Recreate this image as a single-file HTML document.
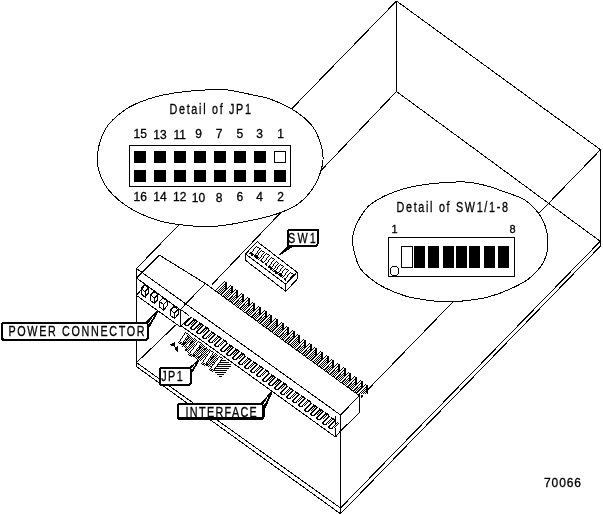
<!DOCTYPE html>
<html><head><meta charset="utf-8"><title>70066</title>
<style>
html,body{margin:0;padding:0;background:#fff;}
body{width:603px;height:515px;overflow:hidden;}
svg{display:block;will-change:transform;}
text{font-family:"Liberation Sans",sans-serif;fill:#000;stroke:#000;stroke-width:0.3px;}
</style></head><body>
<svg width="603" height="515" viewBox="0 0 603 515" shape-rendering="crispEdges">
<defs>
<pattern id="dith" width="2" height="2" patternUnits="userSpaceOnUse"><rect width="2" height="2" fill="#fff"/><rect width="1" height="1" fill="#000"/><rect x="1" y="1" width="1" height="1" fill="#000"/></pattern>
<pattern id="hatch" width="2" height="2" patternUnits="userSpaceOnUse"><rect width="2" height="2" fill="#fff"/><rect width="2" height="1" fill="#000"/></pattern>
</defs>
<rect width="603" height="515" fill="#fff"/>
<line x1="396.5" y1="1.0" x2="136.5" y2="268.5" stroke="#000" stroke-width="1" />
<line x1="396.5" y1="1.0" x2="600.5" y2="149.7" stroke="#000" stroke-width="1" />
<line x1="396.5" y1="1.0" x2="396.5" y2="91.5" stroke="#000" stroke-width="1" />
<line x1="396.5" y1="91.5" x2="211.9" y2="284.7" stroke="#000" stroke-width="1" />
<line x1="176.8" y1="324.0" x2="136.5" y2="362.6" stroke="#000" stroke-width="1" />
<line x1="396.5" y1="91.5" x2="600.5" y2="241.5" stroke="#000" stroke-width="1" />
<line x1="600.5" y1="149.7" x2="600.5" y2="246.0" stroke="#000" stroke-width="1" />
<line x1="600.5" y1="149.7" x2="367.5" y2="390.0" stroke="#000" stroke-width="1" />
<line x1="136.5" y1="268.5" x2="340.5" y2="415.0" stroke="#000" stroke-width="1" />
<line x1="136.5" y1="268.5" x2="136.5" y2="366.6" stroke="#000" stroke-width="1" />
<line x1="136.5" y1="362.6" x2="340.5" y2="508.0" stroke="#000" stroke-width="1" />
<line x1="136.5" y1="366.6" x2="340.5" y2="513.8" stroke="#000" stroke-width="1" />
<line x1="340.5" y1="415.0" x2="340.5" y2="513.8" stroke="#000" stroke-width="1" />
<line x1="340.5" y1="508.0" x2="600.5" y2="241.0" stroke="#000" stroke-width="1" />
<line x1="340.5" y1="513.8" x2="600.5" y2="246.0" stroke="#000" stroke-width="1" />
<polyline points="136.5,278.0 159.5,255.2 205.3,283.5" fill="none" stroke="#000" stroke-width="1" />
<line x1="136.5" y1="278.0" x2="180.5" y2="310.0" stroke="#000" stroke-width="1" />
<line x1="136.5" y1="295.4" x2="145.1" y2="285.0" stroke="#000" stroke-width="1" />
<line x1="136.5" y1="295.4" x2="180.5" y2="327.0" stroke="#000" stroke-width="1" />
<polygon points="141.0,288.5 145.0,291.5 145.0,297.0 141.0,294.0" fill="#fff" stroke="#000" stroke-width="1" />
<polyline points="141.0,288.5 144.5,285.0 148.5,288.0 145.0,291.5" fill="none" stroke="#000" stroke-width="1" />
<polyline points="148.5,288.0 148.5,293.0 145.0,297.0" fill="none" stroke="#000" stroke-width="1" />
<polygon points="150.4,295.0 154.4,298.0 154.4,303.5 150.4,300.5" fill="#fff" stroke="#000" stroke-width="1" />
<polyline points="150.4,295.0 153.9,291.5 157.9,294.5 154.4,298.0" fill="none" stroke="#000" stroke-width="1" />
<polyline points="157.9,294.5 157.9,299.5 154.4,303.5" fill="none" stroke="#000" stroke-width="1" />
<polygon points="159.6,301.5 163.6,304.5 163.6,310.0 159.6,307.0" fill="#fff" stroke="#000" stroke-width="1" />
<polyline points="159.6,301.5 163.1,298.0 167.1,301.0 163.6,304.5" fill="none" stroke="#000" stroke-width="1" />
<polyline points="167.1,301.0 167.1,306.0 163.6,310.0" fill="none" stroke="#000" stroke-width="1" />
<polygon points="170.5,310.0 174.5,313.0 174.5,318.5 170.5,315.5" fill="#fff" stroke="#000" stroke-width="1" />
<polyline points="170.5,310.0 174.0,306.5 178.0,309.5 174.5,313.0" fill="none" stroke="#000" stroke-width="1" />
<polyline points="178.0,309.5 178.0,314.5 174.5,318.5" fill="none" stroke="#000" stroke-width="1" />
<line x1="205.3" y1="283.5" x2="180.5" y2="309.4" stroke="#000" stroke-width="1" />
<line x1="205.3" y1="283.5" x2="359.4" y2="395.7" stroke="#000" stroke-width="1" />
<line x1="359.4" y1="395.7" x2="340.5" y2="415.0" stroke="#000" stroke-width="1" />
<line x1="359.5" y1="395.7" x2="359.5" y2="412.7" stroke="#000" stroke-width="1" />
<line x1="340.5" y1="431.0" x2="359.4" y2="412.7" stroke="#000" stroke-width="1" />
<line x1="180.5" y1="325.3" x2="335.5" y2="437.0" stroke="#000" stroke-width="1" />
<line x1="335.5" y1="416.4" x2="335.5" y2="437.0" stroke="#000" stroke-width="1" />
<line x1="335.5" y1="437.0" x2="340.5" y2="431.0" stroke="#000" stroke-width="1" />
<line x1="180.5" y1="309.4" x2="180.5" y2="325.3" stroke="#000" stroke-width="1" />
<line x1="180.5" y1="309.4" x2="189.0" y2="315.5" stroke="#000" stroke-width="1" />
<path fill="#fff" d="M225 281h1v1h-1zM224 282h1v1h-1zM223 283h2v1h-2zM222 284h2v1h-2zM221 285h2v1h-2zM224 285h1v1h-1zM231 285h1v1h-1zM220 286h2v1h-2zM223 286h1v1h-1zM230 286h1v1h-1zM219 287h2v1h-2zM222 287h1v1h-1zM224 287h1v1h-1zM229 287h2v1h-2zM218 288h2v1h-2zM221 288h1v1h-1zM223 288h1v1h-1zM228 288h2v1h-2zM217 289h2v1h-2zM220 289h1v1h-1zM222 289h1v1h-1zM224 289h1v1h-1zM227 289h2v1h-2zM230 289h1v1h-1zM236 289h1v1h-1zM216 290h2v1h-2zM219 290h1v1h-1zM221 290h1v1h-1zM223 290h1v1h-1zM226 290h2v1h-2zM229 290h1v1h-1zM235 290h1v1h-1zM218 291h1v1h-1zM220 291h1v1h-1zM222 291h1v1h-1zM225 291h2v1h-2zM228 291h1v1h-1zM230 291h1v1h-1zM234 291h2v1h-2zM219 292h1v1h-1zM221 292h1v1h-1zM224 292h2v1h-2zM227 292h1v1h-1zM229 292h1v1h-1zM233 292h2v1h-2zM220 293h1v1h-1zM223 293h2v1h-2zM226 293h1v1h-1zM228 293h1v1h-1zM230 293h1v1h-1zM232 293h2v1h-2zM235 293h1v1h-1zM242 293h1v1h-1zM222 294h2v1h-2zM225 294h1v1h-1zM227 294h1v1h-1zM229 294h1v1h-1zM231 294h2v1h-2zM234 294h2v1h-2zM241 294h1v1h-1zM222 295h1v1h-1zM224 295h1v1h-1zM226 295h1v1h-1zM228 295h1v1h-1zM230 295h2v1h-2zM233 295h2v1h-2zM240 295h2v1h-2zM225 296h1v1h-1zM227 296h1v1h-1zM229 296h2v1h-2zM233 296h1v1h-1zM235 296h1v1h-1zM239 296h2v1h-2zM226 297h1v1h-1zM228 297h2v1h-2zM232 297h1v1h-1zM234 297h1v1h-1zM238 297h2v1h-2zM241 297h1v1h-1zM248 297h1v1h-1zM227 298h2v1h-2zM231 298h1v1h-1zM233 298h1v1h-1zM235 298h1v1h-1zM237 298h2v1h-2zM240 298h2v1h-2zM247 298h1v1h-1zM230 299h1v1h-1zM232 299h1v1h-1zM234 299h1v1h-1zM236 299h2v1h-2zM239 299h2v1h-2zM246 299h2v1h-2zM229 300h1v1h-1zM231 300h1v1h-1zM233 300h1v1h-1zM235 300h2v1h-2zM239 300h1v1h-1zM241 300h1v1h-1zM245 300h2v1h-2zM232 301h1v1h-1zM234 301h2v1h-2zM238 301h1v1h-1zM240 301h1v1h-1zM244 301h2v1h-2zM247 301h1v1h-1zM233 302h2v1h-2zM237 302h1v1h-1zM239 302h1v1h-1zM241 302h1v1h-1zM243 302h2v1h-2zM246 302h2v1h-2zM253 302h1v1h-1zM233 303h1v1h-1zM236 303h1v1h-1zM238 303h1v1h-1zM240 303h1v1h-1zM242 303h2v1h-2zM245 303h2v1h-2zM252 303h1v1h-1zM235 304h1v1h-1zM237 304h1v1h-1zM239 304h1v1h-1zM241 304h2v1h-2zM245 304h1v1h-1zM247 304h1v1h-1zM251 304h2v1h-2zM236 305h1v1h-1zM238 305h1v1h-1zM240 305h2v1h-2zM244 305h1v1h-1zM246 305h1v1h-1zM250 305h2v1h-2zM237 306h1v1h-1zM239 306h2v1h-2zM243 306h1v1h-1zM245 306h1v1h-1zM247 306h1v1h-1zM249 306h2v1h-2zM252 306h1v1h-1zM259 306h1v1h-1zM239 307h1v1h-1zM242 307h1v1h-1zM244 307h1v1h-1zM246 307h1v1h-1zM248 307h2v1h-2zM251 307h2v1h-2zM258 307h1v1h-1zM241 308h1v1h-1zM243 308h1v1h-1zM245 308h1v1h-1zM247 308h2v1h-2zM250 308h2v1h-2zM257 308h2v1h-2zM242 309h1v1h-1zM244 309h1v1h-1zM246 309h2v1h-2zM250 309h1v1h-1zM252 309h1v1h-1zM256 309h2v1h-2zM243 310h1v1h-1zM245 310h2v1h-2zM249 310h1v1h-1zM251 310h1v1h-1zM255 310h2v1h-2zM258 310h1v1h-1zM265 310h1v1h-1zM244 311h2v1h-2zM248 311h1v1h-1zM250 311h1v1h-1zM252 311h1v1h-1zM254 311h2v1h-2zM257 311h2v1h-2zM264 311h1v1h-1zM247 312h1v1h-1zM249 312h1v1h-1zM251 312h1v1h-1zM253 312h2v1h-2zM256 312h2v1h-2zM263 312h2v1h-2zM248 313h1v1h-1zM250 313h1v1h-1zM252 313h2v1h-2zM256 313h1v1h-1zM258 313h1v1h-1zM262 313h2v1h-2zM249 314h1v1h-1zM251 314h2v1h-2zM255 314h1v1h-1zM257 314h1v1h-1zM261 314h2v1h-2zM264 314h1v1h-1zM270 314h1v1h-1zM250 315h2v1h-2zM254 315h1v1h-1zM256 315h1v1h-1zM258 315h1v1h-1zM260 315h2v1h-2zM263 315h2v1h-2zM269 315h1v1h-1zM253 316h1v1h-1zM255 316h1v1h-1zM257 316h1v1h-1zM259 316h2v1h-2zM262 316h2v1h-2zM268 316h2v1h-2zM254 317h1v1h-1zM256 317h1v1h-1zM258 317h2v1h-2zM262 317h1v1h-1zM264 317h1v1h-1zM267 317h2v1h-2zM255 318h1v1h-1zM257 318h2v1h-2zM261 318h1v1h-1zM263 318h1v1h-1zM266 318h2v1h-2zM269 318h1v1h-1zM276 318h1v1h-1zM256 319h2v1h-2zM260 319h1v1h-1zM262 319h1v1h-1zM265 319h2v1h-2zM268 319h1v1h-1zM275 319h1v1h-1zM259 320h1v1h-1zM261 320h1v1h-1zM264 320h2v1h-2zM267 320h1v1h-1zM269 320h1v1h-1zM274 320h2v1h-2zM193 321h1v1h-1zM258 321h1v1h-1zM260 321h1v1h-1zM263 321h2v1h-2zM266 321h1v1h-1zM268 321h1v1h-1zM273 321h2v1h-2zM192 322h1v1h-1zM259 322h1v1h-1zM262 322h2v1h-2zM265 322h1v1h-1zM267 322h1v1h-1zM269 322h1v1h-1zM272 322h2v1h-2zM275 322h1v1h-1zM282 322h1v1h-1zM191 323h1v1h-1zM261 323h2v1h-2zM264 323h1v1h-1zM266 323h1v1h-1zM268 323h1v1h-1zM271 323h2v1h-2zM274 323h1v1h-1zM281 323h1v1h-1zM190 324h1v1h-1zM263 324h1v1h-1zM265 324h1v1h-1zM267 324h1v1h-1zM270 324h2v1h-2zM273 324h1v1h-1zM275 324h1v1h-1zM280 324h2v1h-2zM199 325h1v1h-1zM264 325h1v1h-1zM266 325h1v1h-1zM269 325h2v1h-2zM272 325h1v1h-1zM274 325h1v1h-1zM279 325h2v1h-2zM198 326h1v1h-1zM265 326h1v1h-1zM268 326h2v1h-2zM271 326h1v1h-1zM273 326h1v1h-1zM275 326h1v1h-1zM278 326h2v1h-2zM281 326h1v1h-1zM287 326h1v1h-1zM197 327h1v1h-1zM267 327h2v1h-2zM270 327h1v1h-1zM272 327h1v1h-1zM274 327h1v1h-1zM277 327h2v1h-2zM280 327h1v1h-1zM286 327h1v1h-1zM196 328h1v1h-1zM269 328h1v1h-1zM271 328h1v1h-1zM273 328h1v1h-1zM276 328h2v1h-2zM279 328h1v1h-1zM281 328h1v1h-1zM285 328h2v1h-2zM205 329h1v1h-1zM270 329h1v1h-1zM272 329h1v1h-1zM275 329h2v1h-2zM278 329h1v1h-1zM280 329h1v1h-1zM284 329h2v1h-2zM204 330h1v1h-1zM271 330h1v1h-1zM274 330h2v1h-2zM277 330h1v1h-1zM279 330h1v1h-1zM281 330h1v1h-1zM283 330h2v1h-2zM286 330h1v1h-1zM293 330h1v1h-1zM203 331h1v1h-1zM273 331h2v1h-2zM276 331h1v1h-1zM278 331h1v1h-1zM280 331h1v1h-1zM282 331h2v1h-2zM285 331h2v1h-2zM292 331h1v1h-1zM202 332h1v1h-1zM273 332h1v1h-1zM275 332h1v1h-1zM277 332h1v1h-1zM279 332h1v1h-1zM281 332h2v1h-2zM284 332h2v1h-2zM291 332h2v1h-2zM185 333h1v1h-1zM211 333h1v1h-1zM274 333h1v1h-1zM276 333h1v1h-1zM278 333h1v1h-1zM280 333h2v1h-2zM284 333h1v1h-1zM286 333h1v1h-1zM290 333h2v1h-2zM183 334h1v1h-1zM185 334h3v1h-3zM210 334h1v1h-1zM212 334h1v1h-1zM277 334h1v1h-1zM279 334h2v1h-2zM283 334h1v1h-1zM285 334h1v1h-1zM289 334h2v1h-2zM292 334h1v1h-1zM298 334h1v1h-1zM184 335h3v1h-3zM209 335h1v1h-1zM211 335h1v1h-1zM278 335h2v1h-2zM282 335h1v1h-1zM284 335h1v1h-1zM286 335h1v1h-1zM288 335h2v1h-2zM291 335h2v1h-2zM297 335h1v1h-1zM183 336h4v1h-4zM189 336h1v1h-1zM208 336h1v1h-1zM210 336h1v1h-1zM281 336h1v1h-1zM283 336h1v1h-1zM285 336h1v1h-1zM287 336h2v1h-2zM290 336h2v1h-2zM296 336h2v1h-2zM181 337h1v1h-1zM183 337h3v1h-3zM190 337h1v1h-1zM192 337h1v1h-1zM207 337h1v1h-1zM209 337h1v1h-1zM217 337h1v1h-1zM280 337h1v1h-1zM282 337h1v1h-1zM284 337h1v1h-1zM286 337h2v1h-2zM290 337h1v1h-1zM292 337h1v1h-1zM295 337h2v1h-2zM180 338h1v1h-1zM182 338h3v1h-3zM189 338h1v1h-1zM191 338h1v1h-1zM193 338h1v1h-1zM216 338h1v1h-1zM218 338h1v1h-1zM281 338h1v1h-1zM283 338h1v1h-1zM285 338h2v1h-2zM289 338h1v1h-1zM291 338h1v1h-1zM294 338h2v1h-2zM297 338h1v1h-1zM181 339h3v1h-3zM188 339h1v1h-1zM190 339h1v1h-1zM194 339h1v1h-1zM215 339h1v1h-1zM217 339h1v1h-1zM284 339h2v1h-2zM288 339h1v1h-1zM290 339h1v1h-1zM293 339h2v1h-2zM296 339h1v1h-1zM304 339h1v1h-1zM179 340h1v1h-1zM181 340h3v1h-3zM185 340h1v1h-1zM187 340h1v1h-1zM189 340h1v1h-1zM193 340h1v1h-1zM195 340h1v1h-1zM214 340h1v1h-1zM216 340h1v1h-1zM284 340h1v1h-1zM287 340h1v1h-1zM289 340h1v1h-1zM292 340h2v1h-2zM295 340h1v1h-1zM297 340h1v1h-1zM303 340h1v1h-1zM180 341h3v1h-3zM186 341h1v1h-1zM188 341h1v1h-1zM194 341h1v1h-1zM196 341h2v1h-2zM213 341h1v1h-1zM215 341h1v1h-1zM223 341h1v1h-1zM286 341h1v1h-1zM288 341h1v1h-1zM291 341h2v1h-2zM294 341h1v1h-1zM296 341h1v1h-1zM302 341h2v1h-2zM187 342h1v1h-1zM189 342h1v1h-1zM193 342h1v1h-1zM195 342h1v1h-1zM198 342h1v1h-1zM222 342h1v1h-1zM224 342h1v1h-1zM287 342h1v1h-1zM290 342h2v1h-2zM293 342h1v1h-1zM295 342h1v1h-1zM297 342h1v1h-1zM301 342h2v1h-2zM186 343h1v1h-1zM188 343h1v1h-1zM192 343h1v1h-1zM194 343h1v1h-1zM197 343h4v1h-4zM221 343h1v1h-1zM223 343h1v1h-1zM289 343h2v1h-2zM292 343h1v1h-1zM294 343h1v1h-1zM296 343h1v1h-1zM298 343h1v1h-1zM300 343h2v1h-2zM303 343h1v1h-1zM310 343h1v1h-1zM185 344h1v1h-1zM187 344h1v1h-1zM191 344h1v1h-1zM193 344h1v1h-1zM195 344h1v1h-1zM197 344h3v1h-3zM220 344h1v1h-1zM222 344h1v1h-1zM291 344h1v1h-1zM293 344h1v1h-1zM295 344h1v1h-1zM297 344h1v1h-1zM299 344h2v1h-2zM302 344h2v1h-2zM309 344h1v1h-1zM182 345h1v1h-1zM184 345h1v1h-1zM186 345h1v1h-1zM188 345h1v1h-1zM190 345h1v1h-1zM192 345h1v1h-1zM194 345h1v1h-1zM196 345h3v1h-3zM202 345h1v1h-1zM219 345h1v1h-1zM221 345h1v1h-1zM292 345h1v1h-1zM294 345h1v1h-1zM296 345h1v1h-1zM298 345h2v1h-2zM301 345h2v1h-2zM308 345h2v1h-2zM183 346h1v1h-1zM185 346h1v1h-1zM187 346h1v1h-1zM189 346h1v1h-1zM191 346h1v1h-1zM195 346h3v1h-3zM201 346h1v1h-1zM203 346h1v1h-1zM293 346h1v1h-1zM295 346h1v1h-1zM297 346h2v1h-2zM301 346h1v1h-1zM303 346h1v1h-1zM307 346h2v1h-2zM184 347h1v1h-1zM188 347h1v1h-1zM190 347h1v1h-1zM194 347h4v1h-4zM202 347h1v1h-1zM204 347h1v1h-1zM229 347h1v1h-1zM294 347h1v1h-1zM296 347h2v1h-2zM300 347h1v1h-1zM302 347h1v1h-1zM306 347h2v1h-2zM309 347h1v1h-1zM315 347h1v1h-1zM187 348h1v1h-1zM189 348h1v1h-1zM191 348h2v1h-2zM194 348h3v1h-3zM201 348h1v1h-1zM203 348h1v1h-1zM207 348h1v1h-1zM228 348h1v1h-1zM295 348h2v1h-2zM299 348h1v1h-1zM301 348h1v1h-1zM303 348h1v1h-1zM305 348h2v1h-2zM308 348h2v1h-2zM314 348h1v1h-1zM188 349h1v1h-1zM190 349h2v1h-2zM193 349h3v1h-3zM200 349h1v1h-1zM202 349h1v1h-1zM206 349h1v1h-1zM208 349h1v1h-1zM227 349h1v1h-1zM298 349h1v1h-1zM300 349h1v1h-1zM302 349h1v1h-1zM304 349h2v1h-2zM307 349h2v1h-2zM313 349h2v1h-2zM187 350h1v1h-1zM189 350h1v1h-1zM192 350h3v1h-3zM199 350h1v1h-1zM201 350h1v1h-1zM205 350h1v1h-1zM207 350h1v1h-1zM209 350h1v1h-1zM226 350h1v1h-1zM299 350h1v1h-1zM301 350h1v1h-1zM303 350h2v1h-2zM307 350h1v1h-1zM309 350h1v1h-1zM312 350h2v1h-2zM188 351h1v1h-1zM191 351h4v1h-4zM196 351h1v1h-1zM198 351h1v1h-1zM200 351h1v1h-1zM204 351h1v1h-1zM206 351h1v1h-1zM208 351h1v1h-1zM210 351h1v1h-1zM235 351h1v1h-1zM300 351h1v1h-1zM302 351h2v1h-2zM306 351h1v1h-1zM308 351h1v1h-1zM311 351h2v1h-2zM314 351h1v1h-1zM321 351h1v1h-1zM189 352h1v1h-1zM191 352h3v1h-3zM197 352h1v1h-1zM199 352h1v1h-1zM201 352h1v1h-1zM203 352h1v1h-1zM205 352h1v1h-1zM207 352h1v1h-1zM210 352h3v1h-3zM234 352h1v1h-1zM301 352h2v1h-2zM305 352h1v1h-1zM307 352h1v1h-1zM310 352h2v1h-2zM313 352h1v1h-1zM320 352h1v1h-1zM190 353h3v1h-3zM196 353h1v1h-1zM198 353h1v1h-1zM200 353h1v1h-1zM202 353h1v1h-1zM204 353h1v1h-1zM206 353h1v1h-1zM209 353h3v1h-3zM214 353h1v1h-1zM233 353h1v1h-1zM304 353h1v1h-1zM306 353h1v1h-1zM309 353h2v1h-2zM312 353h1v1h-1zM314 353h1v1h-1zM319 353h2v1h-2zM195 354h1v1h-1zM197 354h1v1h-1zM199 354h1v1h-1zM203 354h1v1h-1zM205 354h1v1h-1zM208 354h4v1h-4zM215 354h1v1h-1zM232 354h1v1h-1zM303 354h1v1h-1zM305 354h1v1h-1zM308 354h2v1h-2zM311 354h1v1h-1zM313 354h1v1h-1zM318 354h2v1h-2zM196 355h1v1h-1zM198 355h1v1h-1zM202 355h1v1h-1zM204 355h1v1h-1zM206 355h1v1h-1zM208 355h3v1h-3zM214 355h1v1h-1zM216 355h1v1h-1zM218 355h1v1h-1zM241 355h1v1h-1zM307 355h2v1h-2zM310 355h1v1h-1zM312 355h1v1h-1zM314 355h1v1h-1zM317 355h2v1h-2zM320 355h1v1h-1zM327 355h1v1h-1zM195 356h1v1h-1zM197 356h1v1h-1zM201 356h1v1h-1zM203 356h1v1h-1zM207 356h3v1h-3zM215 356h1v1h-1zM217 356h2v1h-2zM240 356h1v1h-1zM306 356h2v1h-2zM309 356h1v1h-1zM311 356h1v1h-1zM313 356h1v1h-1zM316 356h2v1h-2zM319 356h1v1h-1zM326 356h1v1h-1zM196 357h1v1h-1zM200 357h1v1h-1zM202 357h1v1h-1zM206 357h3v1h-3zM214 357h1v1h-1zM216 357h2v1h-2zM219 357h1v1h-1zM239 357h1v1h-1zM308 357h1v1h-1zM310 357h1v1h-1zM312 357h1v1h-1zM315 357h2v1h-2zM318 357h1v1h-1zM320 357h1v1h-1zM325 357h2v1h-2zM199 358h1v1h-1zM201 358h1v1h-1zM203 358h2v1h-2zM206 358h3v1h-3zM213 358h1v1h-1zM215 358h1v1h-1zM218 358h4v1h-4zM238 358h1v1h-1zM309 358h1v1h-1zM311 358h1v1h-1zM314 358h2v1h-2zM317 358h1v1h-1zM319 358h1v1h-1zM324 358h2v1h-2zM198 359h1v1h-1zM200 359h1v1h-1zM202 359h2v1h-2zM205 359h3v1h-3zM212 359h1v1h-1zM214 359h1v1h-1zM216 359h1v1h-1zM218 359h3v1h-3zM222 359h2v1h-2zM247 359h1v1h-1zM310 359h1v1h-1zM313 359h2v1h-2zM316 359h1v1h-1zM318 359h1v1h-1zM320 359h1v1h-1zM323 359h2v1h-2zM326 359h1v1h-1zM332 359h1v1h-1zM199 360h1v1h-1zM201 360h1v1h-1zM204 360h3v1h-3zM209 360h1v1h-1zM211 360h1v1h-1zM213 360h1v1h-1zM215 360h1v1h-1zM217 360h3v1h-3zM246 360h1v1h-1zM248 360h1v1h-1zM312 360h2v1h-2zM315 360h1v1h-1zM317 360h1v1h-1zM319 360h1v1h-1zM322 360h2v1h-2zM325 360h1v1h-1zM331 360h1v1h-1zM202 361h1v1h-1zM204 361h2v1h-2zM208 361h1v1h-1zM210 361h1v1h-1zM212 361h1v1h-1zM214 361h1v1h-1zM216 361h4v1h-4zM221 361h6v1h-6zM245 361h1v1h-1zM247 361h1v1h-1zM314 361h1v1h-1zM316 361h1v1h-1zM318 361h1v1h-1zM321 361h2v1h-2zM324 361h1v1h-1zM326 361h1v1h-1zM330 361h2v1h-2zM203 362h3v1h-3zM209 362h1v1h-1zM211 362h1v1h-1zM215 362h4v1h-4zM244 362h1v1h-1zM246 362h1v1h-1zM315 362h1v1h-1zM317 362h1v1h-1zM320 362h2v1h-2zM323 362h1v1h-1zM325 362h1v1h-1zM329 362h2v1h-2zM208 363h1v1h-1zM210 363h1v1h-1zM212 363h2v1h-2zM215 363h3v1h-3zM219 363h11v1h-11zM243 363h1v1h-1zM245 363h1v1h-1zM253 363h1v1h-1zM316 363h1v1h-1zM319 363h2v1h-2zM322 363h1v1h-1zM324 363h1v1h-1zM326 363h1v1h-1zM328 363h2v1h-2zM331 363h1v1h-1zM338 363h1v1h-1zM209 364h1v1h-1zM211 364h1v1h-1zM214 364h3v1h-3zM252 364h1v1h-1zM254 364h1v1h-1zM318 364h2v1h-2zM321 364h1v1h-1zM323 364h1v1h-1zM325 364h1v1h-1zM327 364h2v1h-2zM330 364h2v1h-2zM337 364h1v1h-1zM208 365h1v1h-1zM210 365h2v1h-2zM213 365h4v1h-4zM218 365h14v1h-14zM251 365h1v1h-1zM253 365h1v1h-1zM318 365h1v1h-1zM320 365h1v1h-1zM322 365h1v1h-1zM324 365h1v1h-1zM326 365h2v1h-2zM329 365h2v1h-2zM336 365h2v1h-2zM209 366h1v1h-1zM212 366h4v1h-4zM250 366h1v1h-1zM252 366h1v1h-1zM321 366h1v1h-1zM323 366h1v1h-1zM325 366h2v1h-2zM329 366h1v1h-1zM331 366h1v1h-1zM335 366h2v1h-2zM210 367h1v1h-1zM212 367h3v1h-3zM216 367h14v1h-14zM249 367h1v1h-1zM251 367h1v1h-1zM259 367h1v1h-1zM322 367h1v1h-1zM324 367h2v1h-2zM328 367h1v1h-1zM330 367h1v1h-1zM334 367h2v1h-2zM337 367h1v1h-1zM344 367h1v1h-1zM211 368h3v1h-3zM258 368h1v1h-1zM260 368h1v1h-1zM323 368h2v1h-2zM327 368h1v1h-1zM329 368h1v1h-1zM331 368h1v1h-1zM333 368h2v1h-2zM336 368h2v1h-2zM343 368h1v1h-1zM213 369h1v1h-1zM215 369h13v1h-13zM257 369h1v1h-1zM259 369h1v1h-1zM326 369h1v1h-1zM328 369h1v1h-1zM330 369h1v1h-1zM332 369h2v1h-2zM335 369h2v1h-2zM342 369h2v1h-2zM256 370h1v1h-1zM258 370h1v1h-1zM325 370h1v1h-1zM327 370h1v1h-1zM329 370h1v1h-1zM331 370h2v1h-2zM335 370h1v1h-1zM337 370h1v1h-1zM341 370h2v1h-2zM214 371h13v1h-13zM255 371h1v1h-1zM257 371h1v1h-1zM265 371h1v1h-1zM328 371h1v1h-1zM330 371h2v1h-2zM334 371h1v1h-1zM336 371h1v1h-1zM340 371h2v1h-2zM343 371h1v1h-1zM264 372h1v1h-1zM266 372h1v1h-1zM329 372h2v1h-2zM333 372h1v1h-1zM335 372h1v1h-1zM337 372h1v1h-1zM339 372h2v1h-2zM342 372h2v1h-2zM349 372h1v1h-1zM216 373h9v1h-9zM263 373h1v1h-1zM265 373h1v1h-1zM329 373h1v1h-1zM332 373h1v1h-1zM334 373h1v1h-1zM336 373h1v1h-1zM338 373h2v1h-2zM341 373h2v1h-2zM348 373h1v1h-1zM262 374h1v1h-1zM264 374h1v1h-1zM331 374h1v1h-1zM333 374h1v1h-1zM335 374h1v1h-1zM337 374h2v1h-2zM341 374h1v1h-1zM343 374h1v1h-1zM347 374h2v1h-2zM218 375h5v1h-5zM261 375h1v1h-1zM263 375h1v1h-1zM332 375h1v1h-1zM334 375h1v1h-1zM336 375h2v1h-2zM340 375h1v1h-1zM342 375h1v1h-1zM346 375h2v1h-2zM335 376h2v1h-2zM339 376h1v1h-1zM341 376h1v1h-1zM343 376h1v1h-1zM345 376h2v1h-2zM348 376h1v1h-1zM355 376h1v1h-1zM220 377h1v1h-1zM271 377h1v1h-1zM335 377h1v1h-1zM338 377h1v1h-1zM340 377h1v1h-1zM342 377h1v1h-1zM344 377h2v1h-2zM347 377h2v1h-2zM354 377h1v1h-1zM270 378h1v1h-1zM337 378h1v1h-1zM339 378h1v1h-1zM341 378h1v1h-1zM343 378h2v1h-2zM346 378h2v1h-2zM353 378h2v1h-2zM269 379h1v1h-1zM338 379h1v1h-1zM340 379h1v1h-1zM342 379h2v1h-2zM346 379h1v1h-1zM348 379h1v1h-1zM352 379h2v1h-2zM268 380h1v1h-1zM339 380h1v1h-1zM341 380h2v1h-2zM345 380h1v1h-1zM347 380h1v1h-1zM351 380h2v1h-2zM354 380h1v1h-1zM361 380h1v1h-1zM277 381h1v1h-1zM340 381h2v1h-2zM344 381h1v1h-1zM346 381h1v1h-1zM348 381h1v1h-1zM350 381h2v1h-2zM353 381h2v1h-2zM360 381h1v1h-1zM276 382h1v1h-1zM343 382h1v1h-1zM345 382h1v1h-1zM347 382h1v1h-1zM349 382h2v1h-2zM352 382h2v1h-2zM359 382h2v1h-2zM275 383h1v1h-1zM344 383h1v1h-1zM346 383h1v1h-1zM348 383h2v1h-2zM352 383h1v1h-1zM354 383h1v1h-1zM358 383h2v1h-2zM274 384h1v1h-1zM345 384h1v1h-1zM347 384h2v1h-2zM351 384h1v1h-1zM353 384h1v1h-1zM357 384h2v1h-2zM360 384h1v1h-1zM366 384h1v1h-1zM283 385h1v1h-1zM346 385h2v1h-2zM350 385h1v1h-1zM352 385h1v1h-1zM354 385h1v1h-1zM356 385h2v1h-2zM359 385h2v1h-2zM365 385h1v1h-1zM282 386h1v1h-1zM349 386h1v1h-1zM351 386h1v1h-1zM353 386h1v1h-1zM355 386h2v1h-2zM358 386h2v1h-2zM364 386h2v1h-2zM281 387h1v1h-1zM350 387h1v1h-1zM352 387h1v1h-1zM354 387h2v1h-2zM358 387h1v1h-1zM360 387h1v1h-1zM363 387h2v1h-2zM280 388h1v1h-1zM351 388h1v1h-1zM353 388h2v1h-2zM357 388h1v1h-1zM359 388h1v1h-1zM362 388h2v1h-2zM365 388h1v1h-1zM289 389h1v1h-1zM352 389h2v1h-2zM356 389h1v1h-1zM358 389h1v1h-1zM361 389h2v1h-2zM364 389h1v1h-1zM288 390h1v1h-1zM290 390h1v1h-1zM355 390h1v1h-1zM357 390h1v1h-1zM360 390h2v1h-2zM363 390h1v1h-1zM365 390h1v1h-1zM287 391h1v1h-1zM289 391h1v1h-1zM354 391h1v1h-1zM356 391h1v1h-1zM359 391h2v1h-2zM362 391h1v1h-1zM364 391h1v1h-1zM286 392h1v1h-1zM288 392h1v1h-1zM358 392h2v1h-2zM361 392h1v1h-1zM363 392h1v1h-1zM365 392h1v1h-1zM285 393h1v1h-1zM287 393h1v1h-1zM295 393h1v1h-1zM357 393h2v1h-2zM360 393h1v1h-1zM362 393h1v1h-1zM364 393h1v1h-1zM366 393h1v1h-1zM294 394h1v1h-1zM296 394h1v1h-1zM293 395h1v1h-1zM295 395h1v1h-1zM292 396h1v1h-1zM294 396h1v1h-1zM291 397h1v1h-1zM293 397h1v1h-1zM301 397h1v1h-1zM300 398h1v1h-1zM302 398h1v1h-1zM299 399h1v1h-1zM301 399h1v1h-1zM298 400h1v1h-1zM300 400h1v1h-1zM297 401h1v1h-1zM299 401h1v1h-1zM307 401h1v1h-1zM306 402h1v1h-1zM308 402h1v1h-1zM305 403h1v1h-1zM307 403h1v1h-1zM304 404h1v1h-1zM306 404h1v1h-1zM303 405h1v1h-1zM305 405h1v1h-1zM313 407h1v1h-1zM312 408h1v1h-1zM311 409h1v1h-1zM310 410h1v1h-1zM319 411h1v1h-1zM318 412h1v1h-1zM317 413h1v1h-1zM316 414h1v1h-1zM325 415h1v1h-1zM324 416h1v1h-1zM323 417h1v1h-1zM322 418h1v1h-1zM331 419h1v1h-1zM330 420h1v1h-1zM332 420h1v1h-1zM329 421h1v1h-1zM331 421h1v1h-1zM328 422h1v1h-1zM330 422h1v1h-1zM327 423h1v1h-1zM329 423h1v1h-1zM337 423h1v1h-1zM339 423h1v1h-1zM336 424h1v1h-1zM338 424h1v1h-1zM335 425h1v1h-1zM337 425h1v1h-1zM334 426h1v1h-1zM336 426h1v1h-1zM333 427h1v1h-1zM335 427h1v1h-1z"/>
<path fill="#000" d="M224 281h1v1h-1zM223 282h1v1h-1zM225 282h2v1h-2zM222 283h1v1h-1zM225 283h2v1h-2zM221 284h1v1h-1zM224 284h3v1h-3zM220 285h1v1h-1zM223 285h1v1h-1zM225 285h2v1h-2zM230 285h1v1h-1zM219 286h1v1h-1zM222 286h1v1h-1zM224 286h3v1h-3zM229 286h1v1h-1zM231 286h2v1h-2zM218 287h1v1h-1zM221 287h1v1h-1zM223 287h1v1h-1zM225 287h2v1h-2zM228 287h1v1h-1zM231 287h2v1h-2zM217 288h1v1h-1zM220 288h1v1h-1zM222 288h1v1h-1zM224 288h4v1h-4zM230 288h3v1h-3zM216 289h1v1h-1zM219 289h1v1h-1zM221 289h1v1h-1zM223 289h1v1h-1zM225 289h2v1h-2zM229 289h1v1h-1zM231 289h2v1h-2zM235 289h1v1h-1zM214 290h2v1h-2zM218 290h1v1h-1zM220 290h1v1h-1zM222 290h1v1h-1zM224 290h2v1h-2zM228 290h1v1h-1zM230 290h3v1h-3zM234 290h1v1h-1zM236 290h2v1h-2zM215 291h3v1h-3zM219 291h1v1h-1zM221 291h1v1h-1zM223 291h2v1h-2zM227 291h1v1h-1zM229 291h1v1h-1zM231 291h3v1h-3zM236 291h2v1h-2zM217 292h2v1h-2zM220 292h1v1h-1zM222 292h2v1h-2zM226 292h1v1h-1zM228 292h1v1h-1zM230 292h3v1h-3zM235 292h3v1h-3zM218 293h2v1h-2zM221 293h2v1h-2zM225 293h1v1h-1zM227 293h1v1h-1zM229 293h1v1h-1zM231 293h1v1h-1zM234 293h1v1h-1zM236 293h2v1h-2zM241 293h1v1h-1zM220 294h2v1h-2zM224 294h1v1h-1zM226 294h1v1h-1zM228 294h1v1h-1zM230 294h1v1h-1zM233 294h1v1h-1zM236 294h2v1h-2zM240 294h1v1h-1zM242 294h2v1h-2zM221 295h1v1h-1zM223 295h1v1h-1zM225 295h1v1h-1zM227 295h1v1h-1zM229 295h1v1h-1zM232 295h1v1h-1zM235 295h3v1h-3zM239 295h1v1h-1zM242 295h2v1h-2zM222 296h3v1h-3zM226 296h1v1h-1zM228 296h1v1h-1zM231 296h2v1h-2zM234 296h1v1h-1zM236 296h3v1h-3zM241 296h3v1h-3zM224 297h2v1h-2zM227 297h1v1h-1zM230 297h2v1h-2zM233 297h1v1h-1zM235 297h3v1h-3zM240 297h1v1h-1zM242 297h2v1h-2zM247 297h1v1h-1zM225 298h2v1h-2zM229 298h2v1h-2zM232 298h1v1h-1zM234 298h1v1h-1zM236 298h1v1h-1zM239 298h1v1h-1zM242 298h2v1h-2zM246 298h1v1h-1zM248 298h2v1h-2zM226 299h4v1h-4zM231 299h1v1h-1zM233 299h1v1h-1zM235 299h1v1h-1zM238 299h1v1h-1zM241 299h3v1h-3zM245 299h1v1h-1zM248 299h2v1h-2zM228 300h1v1h-1zM230 300h1v1h-1zM232 300h1v1h-1zM234 300h1v1h-1zM237 300h2v1h-2zM240 300h1v1h-1zM242 300h3v1h-3zM247 300h3v1h-3zM229 301h3v1h-3zM233 301h1v1h-1zM236 301h2v1h-2zM239 301h1v1h-1zM241 301h3v1h-3zM246 301h1v1h-1zM248 301h2v1h-2zM231 302h2v1h-2zM235 302h2v1h-2zM238 302h1v1h-1zM240 302h1v1h-1zM242 302h1v1h-1zM245 302h1v1h-1zM248 302h2v1h-2zM252 302h1v1h-1zM232 303h1v1h-1zM234 303h2v1h-2zM237 303h1v1h-1zM239 303h1v1h-1zM241 303h1v1h-1zM244 303h1v1h-1zM247 303h3v1h-3zM251 303h1v1h-1zM253 303h2v1h-2zM233 304h2v1h-2zM236 304h1v1h-1zM238 304h1v1h-1zM240 304h1v1h-1zM243 304h2v1h-2zM246 304h1v1h-1zM248 304h3v1h-3zM253 304h2v1h-2zM235 305h1v1h-1zM237 305h1v1h-1zM239 305h1v1h-1zM242 305h2v1h-2zM245 305h1v1h-1zM247 305h3v1h-3zM252 305h3v1h-3zM236 306h1v1h-1zM238 306h1v1h-1zM241 306h2v1h-2zM244 306h1v1h-1zM246 306h1v1h-1zM248 306h1v1h-1zM251 306h1v1h-1zM253 306h2v1h-2zM258 306h1v1h-1zM237 307h2v1h-2zM240 307h2v1h-2zM243 307h1v1h-1zM245 307h1v1h-1zM247 307h1v1h-1zM250 307h1v1h-1zM253 307h2v1h-2zM257 307h1v1h-1zM259 307h2v1h-2zM239 308h2v1h-2zM242 308h1v1h-1zM244 308h1v1h-1zM246 308h1v1h-1zM249 308h1v1h-1zM252 308h3v1h-3zM256 308h1v1h-1zM259 308h2v1h-2zM240 309h2v1h-2zM243 309h1v1h-1zM245 309h1v1h-1zM248 309h2v1h-2zM251 309h1v1h-1zM253 309h3v1h-3zM258 309h3v1h-3zM242 310h1v1h-1zM244 310h1v1h-1zM247 310h2v1h-2zM250 310h1v1h-1zM252 310h3v1h-3zM257 310h1v1h-1zM259 310h2v1h-2zM264 310h1v1h-1zM243 311h1v1h-1zM246 311h2v1h-2zM249 311h1v1h-1zM251 311h1v1h-1zM253 311h1v1h-1zM256 311h1v1h-1zM259 311h2v1h-2zM263 311h1v1h-1zM265 311h2v1h-2zM244 312h3v1h-3zM248 312h1v1h-1zM250 312h1v1h-1zM252 312h1v1h-1zM255 312h1v1h-1zM258 312h3v1h-3zM262 312h1v1h-1zM265 312h2v1h-2zM246 313h2v1h-2zM249 313h1v1h-1zM251 313h1v1h-1zM254 313h2v1h-2zM257 313h1v1h-1zM259 313h3v1h-3zM264 313h3v1h-3zM247 314h2v1h-2zM250 314h1v1h-1zM253 314h2v1h-2zM256 314h1v1h-1zM258 314h3v1h-3zM263 314h1v1h-1zM265 314h2v1h-2zM269 314h1v1h-1zM248 315h2v1h-2zM252 315h2v1h-2zM255 315h1v1h-1zM257 315h1v1h-1zM259 315h1v1h-1zM262 315h1v1h-1zM265 315h2v1h-2zM268 315h1v1h-1zM270 315h2v1h-2zM250 316h3v1h-3zM254 316h1v1h-1zM256 316h1v1h-1zM258 316h1v1h-1zM261 316h1v1h-1zM264 316h4v1h-4zM270 316h2v1h-2zM190 317h2v1h-2zM251 317h3v1h-3zM255 317h1v1h-1zM257 317h1v1h-1zM260 317h2v1h-2zM263 317h1v1h-1zM265 317h2v1h-2zM269 317h3v1h-3zM188 318h3v1h-3zM193 318h1v1h-1zM253 318h2v1h-2zM256 318h1v1h-1zM259 318h2v1h-2zM262 318h1v1h-1zM264 318h2v1h-2zM268 318h1v1h-1zM270 318h2v1h-2zM275 318h1v1h-1zM187 319h3v1h-3zM193 319h3v1h-3zM254 319h2v1h-2zM258 319h2v1h-2zM261 319h1v1h-1zM263 319h2v1h-2zM267 319h1v1h-1zM269 319h3v1h-3zM274 319h1v1h-1zM276 319h2v1h-2zM186 320h3v1h-3zM192 320h5v1h-5zM255 320h4v1h-4zM260 320h1v1h-1zM262 320h2v1h-2zM266 320h1v1h-1zM268 320h1v1h-1zM270 320h2v1h-2zM273 320h1v1h-1zM276 320h2v1h-2zM185 321h3v1h-3zM191 321h2v1h-2zM194 321h1v1h-1zM196 321h2v1h-2zM257 321h1v1h-1zM259 321h1v1h-1zM261 321h2v1h-2zM265 321h1v1h-1zM267 321h1v1h-1zM269 321h4v1h-4zM275 321h3v1h-3zM184 322h3v1h-3zM190 322h2v1h-2zM193 322h1v1h-1zM195 322h2v1h-2zM199 322h1v1h-1zM258 322h1v1h-1zM260 322h2v1h-2zM264 322h1v1h-1zM266 322h1v1h-1zM268 322h1v1h-1zM270 322h2v1h-2zM274 322h1v1h-1zM276 322h2v1h-2zM281 322h1v1h-1zM183 323h3v1h-3zM189 323h2v1h-2zM192 323h1v1h-1zM194 323h2v1h-2zM199 323h3v1h-3zM259 323h2v1h-2zM263 323h1v1h-1zM265 323h1v1h-1zM267 323h1v1h-1zM269 323h2v1h-2zM273 323h1v1h-1zM275 323h3v1h-3zM280 323h1v1h-1zM282 323h2v1h-2zM182 324h1v1h-1zM184 324h2v1h-2zM188 324h2v1h-2zM191 324h1v1h-1zM193 324h2v1h-2zM198 324h5v1h-5zM261 324h2v1h-2zM264 324h1v1h-1zM266 324h1v1h-1zM268 324h2v1h-2zM272 324h1v1h-1zM274 324h1v1h-1zM276 324h2v1h-2zM279 324h1v1h-1zM282 324h2v1h-2zM181 325h1v1h-1zM185 325h4v1h-4zM192 325h2v1h-2zM197 325h2v1h-2zM200 325h1v1h-1zM202 325h2v1h-2zM262 325h2v1h-2zM265 325h1v1h-1zM267 325h2v1h-2zM271 325h1v1h-1zM273 325h1v1h-1zM275 325h4v1h-4zM281 325h3v1h-3zM191 326h2v1h-2zM196 326h2v1h-2zM199 326h1v1h-1zM201 326h2v1h-2zM205 326h1v1h-1zM263 326h2v1h-2zM266 326h2v1h-2zM270 326h1v1h-1zM272 326h1v1h-1zM274 326h1v1h-1zM276 326h2v1h-2zM280 326h1v1h-1zM282 326h2v1h-2zM286 326h1v1h-1zM190 327h2v1h-2zM195 327h2v1h-2zM198 327h1v1h-1zM200 327h2v1h-2zM205 327h3v1h-3zM265 327h2v1h-2zM269 327h1v1h-1zM271 327h1v1h-1zM273 327h1v1h-1zM275 327h2v1h-2zM279 327h1v1h-1zM281 327h3v1h-3zM285 327h1v1h-1zM287 327h2v1h-2zM190 328h2v1h-2zM194 328h2v1h-2zM197 328h1v1h-1zM199 328h2v1h-2zM204 328h5v1h-5zM266 328h3v1h-3zM270 328h1v1h-1zM272 328h1v1h-1zM274 328h2v1h-2zM278 328h1v1h-1zM280 328h1v1h-1zM282 328h3v1h-3zM287 328h2v1h-2zM191 329h4v1h-4zM198 329h2v1h-2zM203 329h2v1h-2zM206 329h1v1h-1zM208 329h1v1h-1zM268 329h2v1h-2zM271 329h1v1h-1zM273 329h2v1h-2zM277 329h1v1h-1zM279 329h1v1h-1zM281 329h3v1h-3zM286 329h3v1h-3zM197 330h2v1h-2zM202 330h2v1h-2zM205 330h1v1h-1zM208 330h2v1h-2zM269 330h2v1h-2zM272 330h2v1h-2zM276 330h1v1h-1zM278 330h1v1h-1zM280 330h1v1h-1zM282 330h1v1h-1zM285 330h1v1h-1zM287 330h2v1h-2zM292 330h1v1h-1zM196 331h2v1h-2zM201 331h2v1h-2zM204 331h1v1h-1zM207 331h2v1h-2zM211 331h1v1h-1zM270 331h3v1h-3zM275 331h1v1h-1zM277 331h1v1h-1zM279 331h1v1h-1zM281 331h1v1h-1zM284 331h1v1h-1zM287 331h2v1h-2zM291 331h1v1h-1zM293 331h2v1h-2zM185 332h1v1h-1zM196 332h2v1h-2zM200 332h2v1h-2zM203 332h1v1h-1zM206 332h2v1h-2zM211 332h3v1h-3zM272 332h1v1h-1zM274 332h1v1h-1zM276 332h1v1h-1zM278 332h1v1h-1zM280 332h1v1h-1zM283 332h1v1h-1zM286 332h3v1h-3zM290 332h1v1h-1zM293 332h2v1h-2zM184 333h1v1h-1zM186 333h2v1h-2zM197 333h4v1h-4zM205 333h2v1h-2zM210 333h1v1h-1zM212 333h3v1h-3zM273 333h1v1h-1zM275 333h1v1h-1zM277 333h1v1h-1zM279 333h1v1h-1zM282 333h2v1h-2zM285 333h1v1h-1zM287 333h3v1h-3zM292 333h3v1h-3zM184 334h1v1h-1zM188 334h1v1h-1zM204 334h2v1h-2zM209 334h1v1h-1zM211 334h1v1h-1zM214 334h2v1h-2zM274 334h3v1h-3zM278 334h1v1h-1zM281 334h2v1h-2zM284 334h1v1h-1zM286 334h3v1h-3zM291 334h1v1h-1zM293 334h2v1h-2zM297 334h1v1h-1zM183 335h1v1h-1zM187 335h1v1h-1zM189 335h1v1h-1zM203 335h2v1h-2zM208 335h1v1h-1zM210 335h1v1h-1zM213 335h2v1h-2zM217 335h1v1h-1zM276 335h2v1h-2zM280 335h2v1h-2zM283 335h1v1h-1zM285 335h1v1h-1zM287 335h1v1h-1zM290 335h1v1h-1zM293 335h2v1h-2zM296 335h1v1h-1zM298 335h2v1h-2zM182 336h1v1h-1zM187 336h2v1h-2zM190 336h1v1h-1zM202 336h2v1h-2zM207 336h1v1h-1zM209 336h1v1h-1zM212 336h2v1h-2zM217 336h3v1h-3zM277 336h4v1h-4zM282 336h1v1h-1zM284 336h1v1h-1zM286 336h1v1h-1zM289 336h1v1h-1zM292 336h4v1h-4zM298 336h2v1h-2zM182 337h1v1h-1zM186 337h1v1h-1zM188 337h2v1h-2zM191 337h1v1h-1zM202 337h2v1h-2zM206 337h1v1h-1zM208 337h1v1h-1zM211 337h2v1h-2zM216 337h1v1h-1zM218 337h3v1h-3zM279 337h1v1h-1zM281 337h1v1h-1zM283 337h1v1h-1zM285 337h1v1h-1zM288 337h2v1h-2zM291 337h1v1h-1zM293 337h2v1h-2zM297 337h3v1h-3zM181 338h1v1h-1zM185 338h1v1h-1zM187 338h2v1h-2zM190 338h1v1h-1zM192 338h1v1h-1zM194 338h1v1h-1zM203 338h4v1h-4zM210 338h2v1h-2zM215 338h1v1h-1zM217 338h1v1h-1zM220 338h2v1h-2zM280 338h1v1h-1zM282 338h1v1h-1zM284 338h1v1h-1zM287 338h2v1h-2zM290 338h1v1h-1zM292 338h2v1h-2zM296 338h1v1h-1zM298 338h2v1h-2zM180 339h1v1h-1zM185 339h3v1h-3zM189 339h1v1h-1zM191 339h1v1h-1zM193 339h1v1h-1zM195 339h1v1h-1zM209 339h2v1h-2zM214 339h1v1h-1zM216 339h1v1h-1zM219 339h2v1h-2zM223 339h1v1h-1zM281 339h3v1h-3zM286 339h2v1h-2zM289 339h1v1h-1zM291 339h2v1h-2zM295 339h1v1h-1zM297 339h3v1h-3zM303 339h1v1h-1zM180 340h1v1h-1zM184 340h1v1h-1zM186 340h1v1h-1zM188 340h1v1h-1zM190 340h1v1h-1zM192 340h1v1h-1zM194 340h1v1h-1zM196 340h1v1h-1zM208 340h2v1h-2zM213 340h1v1h-1zM215 340h1v1h-1zM218 340h2v1h-2zM223 340h3v1h-3zM283 340h1v1h-1zM285 340h2v1h-2zM288 340h1v1h-1zM290 340h2v1h-2zM294 340h1v1h-1zM296 340h1v1h-1zM298 340h2v1h-2zM302 340h1v1h-1zM304 340h2v1h-2zM179 341h1v1h-1zM183 341h1v1h-1zM185 341h1v1h-1zM187 341h1v1h-1zM189 341h1v1h-1zM191 341h3v1h-3zM195 341h1v1h-1zM198 341h1v1h-1zM208 341h2v1h-2zM212 341h1v1h-1zM214 341h1v1h-1zM217 341h2v1h-2zM222 341h1v1h-1zM224 341h3v1h-3zM284 341h2v1h-2zM287 341h1v1h-1zM289 341h2v1h-2zM293 341h1v1h-1zM295 341h1v1h-1zM297 341h3v1h-3zM301 341h1v1h-1zM304 341h2v1h-2zM178 342h1v1h-1zM180 342h2v1h-2zM183 342h4v1h-4zM188 342h1v1h-1zM190 342h3v1h-3zM194 342h1v1h-1zM197 342h1v1h-1zM199 342h2v1h-2zM209 342h4v1h-4zM216 342h2v1h-2zM221 342h1v1h-1zM223 342h1v1h-1zM226 342h1v1h-1zM285 342h2v1h-2zM288 342h2v1h-2zM292 342h1v1h-1zM294 342h1v1h-1zM296 342h1v1h-1zM298 342h3v1h-3zM303 342h3v1h-3zM179 343h2v1h-2zM182 343h4v1h-4zM187 343h1v1h-1zM190 343h2v1h-2zM193 343h1v1h-1zM196 343h1v1h-1zM201 343h1v1h-1zM215 343h2v1h-2zM220 343h1v1h-1zM222 343h1v1h-1zM226 343h2v1h-2zM287 343h2v1h-2zM291 343h1v1h-1zM293 343h1v1h-1zM295 343h1v1h-1zM297 343h1v1h-1zM299 343h1v1h-1zM302 343h1v1h-1zM304 343h2v1h-2zM309 343h1v1h-1zM181 344h4v1h-4zM186 344h1v1h-1zM189 344h2v1h-2zM192 344h1v1h-1zM194 344h1v1h-1zM196 344h1v1h-1zM200 344h1v1h-1zM202 344h1v1h-1zM214 344h2v1h-2zM219 344h1v1h-1zM221 344h1v1h-1zM225 344h2v1h-2zM229 344h1v1h-1zM288 344h3v1h-3zM292 344h1v1h-1zM294 344h1v1h-1zM296 344h1v1h-1zM298 344h1v1h-1zM301 344h1v1h-1zM304 344h2v1h-2zM308 344h1v1h-1zM310 344h2v1h-2zM183 345h1v1h-1zM185 345h1v1h-1zM189 345h1v1h-1zM191 345h1v1h-1zM193 345h1v1h-1zM195 345h1v1h-1zM199 345h1v1h-1zM201 345h1v1h-1zM203 345h1v1h-1zM214 345h2v1h-2zM218 345h1v1h-1zM220 345h1v1h-1zM224 345h2v1h-2zM229 345h3v1h-3zM290 345h2v1h-2zM293 345h1v1h-1zM295 345h1v1h-1zM297 345h1v1h-1zM300 345h1v1h-1zM303 345h3v1h-3zM307 345h1v1h-1zM310 345h2v1h-2zM182 346h1v1h-1zM184 346h1v1h-1zM186 346h1v1h-1zM188 346h1v1h-1zM190 346h1v1h-1zM192 346h1v1h-1zM194 346h1v1h-1zM199 346h2v1h-2zM202 346h1v1h-1zM204 346h1v1h-1zM215 346h4v1h-4zM223 346h2v1h-2zM228 346h5v1h-5zM291 346h2v1h-2zM294 346h1v1h-1zM296 346h1v1h-1zM299 346h2v1h-2zM302 346h1v1h-1zM304 346h3v1h-3zM309 346h3v1h-3zM185 347h1v1h-1zM187 347h1v1h-1zM189 347h1v1h-1zM191 347h1v1h-1zM193 347h1v1h-1zM198 347h4v1h-4zM203 347h1v1h-1zM206 347h1v1h-1zM222 347h2v1h-2zM227 347h2v1h-2zM230 347h1v1h-1zM232 347h2v1h-2zM292 347h2v1h-2zM295 347h1v1h-1zM298 347h2v1h-2zM301 347h1v1h-1zM303 347h3v1h-3zM308 347h1v1h-1zM310 347h2v1h-2zM314 347h1v1h-1zM186 348h1v1h-1zM188 348h1v1h-1zM190 348h1v1h-1zM193 348h1v1h-1zM197 348h1v1h-1zM199 348h2v1h-2zM202 348h1v1h-1zM204 348h3v1h-3zM221 348h2v1h-2zM226 348h2v1h-2zM229 348h1v1h-1zM231 348h2v1h-2zM235 348h1v1h-1zM294 348h1v1h-1zM297 348h2v1h-2zM300 348h1v1h-1zM302 348h1v1h-1zM304 348h1v1h-1zM307 348h1v1h-1zM310 348h2v1h-2zM313 348h1v1h-1zM315 348h2v1h-2zM185 349h3v1h-3zM189 349h1v1h-1zM192 349h1v1h-1zM196 349h1v1h-1zM198 349h2v1h-2zM201 349h1v1h-1zM203 349h3v1h-3zM207 349h1v1h-1zM209 349h1v1h-1zM220 349h2v1h-2zM225 349h2v1h-2zM228 349h1v1h-1zM230 349h2v1h-2zM235 349h3v1h-3zM295 349h3v1h-3zM299 349h1v1h-1zM301 349h1v1h-1zM303 349h1v1h-1zM306 349h1v1h-1zM309 349h4v1h-4zM315 349h2v1h-2zM185 350h2v1h-2zM188 350h1v1h-1zM191 350h1v1h-1zM196 350h3v1h-3zM200 350h1v1h-1zM202 350h1v1h-1zM204 350h1v1h-1zM206 350h1v1h-1zM208 350h1v1h-1zM210 350h1v1h-1zM220 350h2v1h-2zM224 350h2v1h-2zM227 350h1v1h-1zM229 350h2v1h-2zM234 350h5v1h-5zM296 350h3v1h-3zM300 350h1v1h-1zM302 350h1v1h-1zM305 350h2v1h-2zM308 350h1v1h-1zM310 350h2v1h-2zM314 350h3v1h-3zM187 351h1v1h-1zM190 351h1v1h-1zM195 351h1v1h-1zM197 351h1v1h-1zM199 351h1v1h-1zM201 351h1v1h-1zM203 351h1v1h-1zM205 351h1v1h-1zM207 351h1v1h-1zM209 351h1v1h-1zM211 351h2v1h-2zM221 351h4v1h-4zM228 351h2v1h-2zM233 351h2v1h-2zM236 351h1v1h-1zM238 351h2v1h-2zM298 351h2v1h-2zM301 351h1v1h-1zM304 351h2v1h-2zM307 351h1v1h-1zM309 351h2v1h-2zM313 351h1v1h-1zM315 351h2v1h-2zM320 351h1v1h-1zM188 352h1v1h-1zM190 352h1v1h-1zM194 352h1v1h-1zM196 352h1v1h-1zM198 352h1v1h-1zM200 352h1v1h-1zM202 352h1v1h-1zM204 352h1v1h-1zM206 352h1v1h-1zM209 352h1v1h-1zM213 352h1v1h-1zM227 352h2v1h-2zM232 352h2v1h-2zM235 352h1v1h-1zM237 352h2v1h-2zM241 352h1v1h-1zM299 352h2v1h-2zM303 352h2v1h-2zM306 352h1v1h-1zM308 352h2v1h-2zM312 352h1v1h-1zM314 352h3v1h-3zM319 352h1v1h-1zM321 352h2v1h-2zM189 353h1v1h-1zM193 353h1v1h-1zM195 353h1v1h-1zM197 353h1v1h-1zM199 353h1v1h-1zM201 353h1v1h-1zM203 353h1v1h-1zM205 353h1v1h-1zM208 353h1v1h-1zM212 353h1v1h-1zM215 353h1v1h-1zM226 353h2v1h-2zM231 353h2v1h-2zM234 353h1v1h-1zM236 353h2v1h-2zM241 353h3v1h-3zM301 353h3v1h-3zM305 353h1v1h-1zM307 353h2v1h-2zM311 353h1v1h-1zM313 353h1v1h-1zM315 353h2v1h-2zM318 353h1v1h-1zM321 353h2v1h-2zM188 354h1v1h-1zM190 354h2v1h-2zM193 354h2v1h-2zM196 354h1v1h-1zM198 354h1v1h-1zM201 354h2v1h-2zM204 354h1v1h-1zM206 354h2v1h-2zM212 354h1v1h-1zM214 354h1v1h-1zM216 354h1v1h-1zM226 354h2v1h-2zM230 354h2v1h-2zM233 354h1v1h-1zM235 354h2v1h-2zM240 354h5v1h-5zM302 354h1v1h-1zM304 354h1v1h-1zM306 354h2v1h-2zM310 354h1v1h-1zM312 354h1v1h-1zM314 354h4v1h-4zM320 354h3v1h-3zM189 355h2v1h-2zM192 355h4v1h-4zM197 355h1v1h-1zM200 355h2v1h-2zM203 355h1v1h-1zM205 355h1v1h-1zM207 355h1v1h-1zM211 355h1v1h-1zM213 355h1v1h-1zM215 355h1v1h-1zM217 355h1v1h-1zM227 355h4v1h-4zM234 355h2v1h-2zM239 355h2v1h-2zM242 355h1v1h-1zM244 355h1v1h-1zM303 355h4v1h-4zM309 355h1v1h-1zM311 355h1v1h-1zM313 355h1v1h-1zM315 355h2v1h-2zM319 355h1v1h-1zM321 355h2v1h-2zM326 355h1v1h-1zM191 356h1v1h-1zM193 356h2v1h-2zM196 356h1v1h-1zM198 356h3v1h-3zM202 356h1v1h-1zM204 356h1v1h-1zM206 356h1v1h-1zM210 356h1v1h-1zM212 356h3v1h-3zM216 356h1v1h-1zM219 356h1v1h-1zM233 356h2v1h-2zM238 356h2v1h-2zM241 356h1v1h-1zM244 356h2v1h-2zM305 356h1v1h-1zM308 356h1v1h-1zM310 356h1v1h-1zM312 356h1v1h-1zM314 356h2v1h-2zM318 356h1v1h-1zM320 356h3v1h-3zM325 356h1v1h-1zM327 356h2v1h-2zM195 357h1v1h-1zM197 357h3v1h-3zM201 357h1v1h-1zM203 357h1v1h-1zM205 357h1v1h-1zM210 357h4v1h-4zM215 357h1v1h-1zM218 357h1v1h-1zM220 357h2v1h-2zM232 357h2v1h-2zM237 357h2v1h-2zM240 357h1v1h-1zM243 357h2v1h-2zM247 357h1v1h-1zM306 357h2v1h-2zM309 357h1v1h-1zM311 357h1v1h-1zM313 357h2v1h-2zM317 357h1v1h-1zM319 357h1v1h-1zM321 357h2v1h-2zM324 357h1v1h-1zM327 357h2v1h-2zM196 358h1v1h-1zM198 358h1v1h-1zM200 358h1v1h-1zM202 358h1v1h-1zM205 358h1v1h-1zM209 358h1v1h-1zM211 358h2v1h-2zM214 358h1v1h-1zM216 358h2v1h-2zM222 358h1v1h-1zM232 358h2v1h-2zM236 358h2v1h-2zM239 358h1v1h-1zM242 358h2v1h-2zM247 358h3v1h-3zM307 358h2v1h-2zM310 358h1v1h-1zM312 358h2v1h-2zM316 358h1v1h-1zM318 358h1v1h-1zM320 358h4v1h-4zM326 358h3v1h-3zM197 359h1v1h-1zM199 359h1v1h-1zM201 359h1v1h-1zM204 359h1v1h-1zM208 359h1v1h-1zM210 359h2v1h-2zM213 359h1v1h-1zM215 359h1v1h-1zM217 359h1v1h-1zM221 359h1v1h-1zM233 359h4v1h-4zM241 359h2v1h-2zM246 359h1v1h-1zM248 359h3v1h-3zM309 359h1v1h-1zM311 359h2v1h-2zM315 359h1v1h-1zM317 359h1v1h-1zM319 359h1v1h-1zM321 359h2v1h-2zM325 359h1v1h-1zM327 359h2v1h-2zM331 359h1v1h-1zM200 360h1v1h-1zM203 360h1v1h-1zM208 360h1v1h-1zM210 360h1v1h-1zM212 360h1v1h-1zM214 360h1v1h-1zM216 360h1v1h-1zM220 360h6v1h-6zM240 360h2v1h-2zM245 360h1v1h-1zM247 360h1v1h-1zM250 360h2v1h-2zM310 360h2v1h-2zM314 360h1v1h-1zM316 360h1v1h-1zM318 360h1v1h-1zM320 360h2v1h-2zM324 360h1v1h-1zM326 360h3v1h-3zM330 360h1v1h-1zM332 360h2v1h-2zM203 361h1v1h-1zM207 361h1v1h-1zM209 361h1v1h-1zM211 361h1v1h-1zM213 361h1v1h-1zM215 361h1v1h-1zM220 361h1v1h-1zM239 361h2v1h-2zM244 361h1v1h-1zM246 361h1v1h-1zM249 361h2v1h-2zM253 361h1v1h-1zM312 361h2v1h-2zM315 361h1v1h-1zM317 361h1v1h-1zM319 361h2v1h-2zM323 361h1v1h-1zM325 361h1v1h-1zM327 361h3v1h-3zM332 361h2v1h-2zM202 362h1v1h-1zM206 362h1v1h-1zM208 362h1v1h-1zM210 362h1v1h-1zM212 362h3v1h-3zM219 362h10v1h-10zM238 362h2v1h-2zM243 362h1v1h-1zM245 362h1v1h-1zM248 362h2v1h-2zM253 362h3v1h-3zM313 362h2v1h-2zM316 362h1v1h-1zM318 362h2v1h-2zM322 362h1v1h-1zM324 362h1v1h-1zM326 362h3v1h-3zM331 362h3v1h-3zM201 363h1v1h-1zM203 363h2v1h-2zM206 363h2v1h-2zM209 363h1v1h-1zM211 363h1v1h-1zM214 363h1v1h-1zM218 363h1v1h-1zM238 363h2v1h-2zM242 363h1v1h-1zM244 363h1v1h-1zM247 363h2v1h-2zM252 363h1v1h-1zM254 363h3v1h-3zM314 363h2v1h-2zM317 363h2v1h-2zM321 363h1v1h-1zM323 363h1v1h-1zM325 363h1v1h-1zM327 363h1v1h-1zM330 363h1v1h-1zM332 363h2v1h-2zM337 363h1v1h-1zM202 364h2v1h-2zM205 364h4v1h-4zM210 364h1v1h-1zM212 364h2v1h-2zM217 364h14v1h-14zM239 364h4v1h-4zM246 364h2v1h-2zM251 364h1v1h-1zM253 364h1v1h-1zM256 364h2v1h-2zM316 364h2v1h-2zM320 364h1v1h-1zM322 364h1v1h-1zM324 364h1v1h-1zM326 364h1v1h-1zM329 364h1v1h-1zM332 364h2v1h-2zM336 364h1v1h-1zM338 364h2v1h-2zM204 365h1v1h-1zM206 365h2v1h-2zM209 365h1v1h-1zM212 365h1v1h-1zM217 365h1v1h-1zM245 365h2v1h-2zM250 365h1v1h-1zM252 365h1v1h-1zM255 365h2v1h-2zM259 365h1v1h-1zM317 365h1v1h-1zM319 365h1v1h-1zM321 365h1v1h-1zM323 365h1v1h-1zM325 365h1v1h-1zM328 365h1v1h-1zM331 365h3v1h-3zM335 365h1v1h-1zM338 365h2v1h-2zM208 366h1v1h-1zM210 366h2v1h-2zM216 366h15v1h-15zM244 366h2v1h-2zM249 366h1v1h-1zM251 366h1v1h-1zM254 366h2v1h-2zM259 366h3v1h-3zM318 366h3v1h-3zM322 366h1v1h-1zM324 366h1v1h-1zM327 366h2v1h-2zM330 366h1v1h-1zM332 366h3v1h-3zM337 366h3v1h-3zM211 367h1v1h-1zM215 367h1v1h-1zM244 367h2v1h-2zM248 367h1v1h-1zM250 367h1v1h-1zM253 367h2v1h-2zM258 367h1v1h-1zM260 367h3v1h-3zM320 367h2v1h-2zM323 367h1v1h-1zM326 367h2v1h-2zM329 367h1v1h-1zM331 367h3v1h-3zM336 367h1v1h-1zM338 367h2v1h-2zM343 367h1v1h-1zM210 368h1v1h-1zM214 368h15v1h-15zM245 368h4v1h-4zM252 368h2v1h-2zM257 368h1v1h-1zM259 368h1v1h-1zM262 368h2v1h-2zM321 368h2v1h-2zM325 368h2v1h-2zM328 368h1v1h-1zM330 368h1v1h-1zM332 368h1v1h-1zM335 368h1v1h-1zM338 368h2v1h-2zM342 368h1v1h-1zM344 368h2v1h-2zM209 369h1v1h-1zM211 369h2v1h-2zM214 369h1v1h-1zM251 369h2v1h-2zM256 369h1v1h-1zM258 369h1v1h-1zM261 369h2v1h-2zM265 369h1v1h-1zM323 369h3v1h-3zM327 369h1v1h-1zM329 369h1v1h-1zM331 369h1v1h-1zM334 369h1v1h-1zM337 369h3v1h-3zM341 369h1v1h-1zM344 369h2v1h-2zM210 370h2v1h-2zM213 370h14v1h-14zM250 370h2v1h-2zM255 370h1v1h-1zM257 370h1v1h-1zM260 370h2v1h-2zM265 370h3v1h-3zM324 370h1v1h-1zM326 370h1v1h-1zM328 370h1v1h-1zM330 370h1v1h-1zM333 370h2v1h-2zM336 370h1v1h-1zM338 370h3v1h-3zM343 370h3v1h-3zM212 371h1v1h-1zM250 371h2v1h-2zM254 371h1v1h-1zM256 371h1v1h-1zM259 371h2v1h-2zM264 371h1v1h-1zM266 371h3v1h-3zM325 371h3v1h-3zM329 371h1v1h-1zM332 371h2v1h-2zM335 371h1v1h-1zM337 371h3v1h-3zM342 371h1v1h-1zM344 371h2v1h-2zM215 372h11v1h-11zM251 372h4v1h-4zM258 372h2v1h-2zM263 372h1v1h-1zM265 372h1v1h-1zM268 372h1v1h-1zM327 372h2v1h-2zM331 372h2v1h-2zM334 372h1v1h-1zM336 372h1v1h-1zM338 372h1v1h-1zM341 372h1v1h-1zM344 372h2v1h-2zM348 372h1v1h-1zM257 373h2v1h-2zM262 373h1v1h-1zM264 373h1v1h-1zM268 373h2v1h-2zM328 373h1v1h-1zM330 373h2v1h-2zM333 373h1v1h-1zM335 373h1v1h-1zM337 373h1v1h-1zM340 373h1v1h-1zM343 373h3v1h-3zM347 373h1v1h-1zM349 373h2v1h-2zM217 374h7v1h-7zM256 374h2v1h-2zM261 374h1v1h-1zM263 374h1v1h-1zM267 374h2v1h-2zM271 374h1v1h-1zM329 374h2v1h-2zM332 374h1v1h-1zM334 374h1v1h-1zM336 374h1v1h-1zM339 374h2v1h-2zM342 374h1v1h-1zM344 374h3v1h-3zM349 374h2v1h-2zM256 375h2v1h-2zM260 375h1v1h-1zM262 375h1v1h-1zM266 375h2v1h-2zM271 375h3v1h-3zM331 375h1v1h-1zM333 375h1v1h-1zM335 375h1v1h-1zM338 375h2v1h-2zM341 375h1v1h-1zM343 375h3v1h-3zM348 375h3v1h-3zM219 376h3v1h-3zM257 376h4v1h-4zM265 376h2v1h-2zM270 376h5v1h-5zM332 376h3v1h-3zM337 376h2v1h-2zM340 376h1v1h-1zM342 376h1v1h-1zM344 376h1v1h-1zM347 376h1v1h-1zM349 376h2v1h-2zM354 376h1v1h-1zM264 377h2v1h-2zM269 377h2v1h-2zM272 377h1v1h-1zM274 377h2v1h-2zM334 377h1v1h-1zM336 377h2v1h-2zM339 377h1v1h-1zM341 377h1v1h-1zM343 377h1v1h-1zM346 377h1v1h-1zM349 377h2v1h-2zM353 377h1v1h-1zM355 377h2v1h-2zM263 378h2v1h-2zM268 378h2v1h-2zM271 378h1v1h-1zM273 378h2v1h-2zM277 378h1v1h-1zM335 378h2v1h-2zM338 378h1v1h-1zM340 378h1v1h-1zM342 378h1v1h-1zM345 378h1v1h-1zM348 378h3v1h-3zM352 378h1v1h-1zM355 378h2v1h-2zM262 379h2v1h-2zM267 379h2v1h-2zM270 379h1v1h-1zM272 379h2v1h-2zM277 379h3v1h-3zM336 379h2v1h-2zM339 379h1v1h-1zM341 379h1v1h-1zM344 379h2v1h-2zM347 379h1v1h-1zM349 379h3v1h-3zM354 379h3v1h-3zM262 380h2v1h-2zM266 380h2v1h-2zM269 380h1v1h-1zM271 380h2v1h-2zM276 380h5v1h-5zM338 380h1v1h-1zM340 380h1v1h-1zM343 380h2v1h-2zM346 380h1v1h-1zM348 380h3v1h-3zM353 380h1v1h-1zM355 380h2v1h-2zM360 380h1v1h-1zM263 381h4v1h-4zM270 381h2v1h-2zM275 381h2v1h-2zM278 381h1v1h-1zM280 381h2v1h-2zM339 381h1v1h-1zM342 381h2v1h-2zM345 381h1v1h-1zM347 381h1v1h-1zM349 381h1v1h-1zM352 381h1v1h-1zM355 381h2v1h-2zM359 381h1v1h-1zM361 381h2v1h-2zM269 382h2v1h-2zM274 382h2v1h-2zM277 382h1v1h-1zM279 382h2v1h-2zM283 382h1v1h-1zM340 382h3v1h-3zM344 382h1v1h-1zM346 382h1v1h-1zM348 382h1v1h-1zM351 382h1v1h-1zM354 382h3v1h-3zM358 382h1v1h-1zM361 382h2v1h-2zM268 383h2v1h-2zM273 383h2v1h-2zM276 383h1v1h-1zM278 383h2v1h-2zM283 383h3v1h-3zM342 383h2v1h-2zM345 383h1v1h-1zM347 383h1v1h-1zM350 383h2v1h-2zM353 383h1v1h-1zM355 383h3v1h-3zM360 383h3v1h-3zM268 384h2v1h-2zM272 384h2v1h-2zM275 384h1v1h-1zM277 384h2v1h-2zM282 384h5v1h-5zM343 384h2v1h-2zM346 384h1v1h-1zM349 384h2v1h-2zM352 384h1v1h-1zM354 384h3v1h-3zM359 384h1v1h-1zM361 384h2v1h-2zM365 384h1v1h-1zM269 385h4v1h-4zM276 385h2v1h-2zM281 385h2v1h-2zM284 385h1v1h-1zM286 385h1v1h-1zM345 385h1v1h-1zM348 385h2v1h-2zM351 385h1v1h-1zM353 385h1v1h-1zM355 385h1v1h-1zM358 385h1v1h-1zM361 385h2v1h-2zM364 385h1v1h-1zM366 385h2v1h-2zM275 386h2v1h-2zM280 386h2v1h-2zM283 386h1v1h-1zM286 386h2v1h-2zM346 386h3v1h-3zM350 386h1v1h-1zM352 386h1v1h-1zM354 386h1v1h-1zM357 386h1v1h-1zM360 386h4v1h-4zM366 386h2v1h-2zM274 387h2v1h-2zM279 387h2v1h-2zM282 387h1v1h-1zM285 387h2v1h-2zM289 387h1v1h-1zM347 387h3v1h-3zM351 387h1v1h-1zM353 387h1v1h-1zM356 387h2v1h-2zM359 387h1v1h-1zM361 387h2v1h-2zM365 387h3v1h-3zM274 388h2v1h-2zM278 388h2v1h-2zM281 388h1v1h-1zM284 388h2v1h-2zM289 388h3v1h-3zM349 388h2v1h-2zM352 388h1v1h-1zM355 388h2v1h-2zM358 388h1v1h-1zM360 388h2v1h-2zM364 388h1v1h-1zM366 388h2v1h-2zM275 389h4v1h-4zM283 389h2v1h-2zM288 389h1v1h-1zM290 389h3v1h-3zM350 389h2v1h-2zM354 389h2v1h-2zM357 389h1v1h-1zM359 389h2v1h-2zM363 389h1v1h-1zM365 389h3v1h-3zM282 390h2v1h-2zM287 390h1v1h-1zM289 390h1v1h-1zM292 390h2v1h-2zM351 390h4v1h-4zM356 390h1v1h-1zM358 390h2v1h-2zM362 390h1v1h-1zM364 390h1v1h-1zM366 390h2v1h-2zM281 391h2v1h-2zM286 391h1v1h-1zM288 391h1v1h-1zM291 391h2v1h-2zM295 391h1v1h-1zM353 391h1v1h-1zM355 391h1v1h-1zM357 391h2v1h-2zM361 391h1v1h-1zM363 391h1v1h-1zM365 391h3v1h-3zM280 392h2v1h-2zM285 392h1v1h-1zM287 392h1v1h-1zM290 392h2v1h-2zM295 392h3v1h-3zM354 392h4v1h-4zM360 392h1v1h-1zM362 392h1v1h-1zM364 392h1v1h-1zM366 392h2v1h-2zM280 393h2v1h-2zM284 393h1v1h-1zM286 393h1v1h-1zM289 393h2v1h-2zM294 393h1v1h-1zM296 393h3v1h-3zM356 393h1v1h-1zM359 393h1v1h-1zM361 393h1v1h-1zM363 393h1v1h-1zM365 393h1v1h-1zM367 393h1v1h-1zM281 394h4v1h-4zM288 394h2v1h-2zM293 394h1v1h-1zM295 394h1v1h-1zM298 394h2v1h-2zM357 394h3v1h-3zM287 395h2v1h-2zM292 395h1v1h-1zM294 395h1v1h-1zM297 395h2v1h-2zM301 395h1v1h-1zM361 395h2v1h-2zM286 396h2v1h-2zM291 396h1v1h-1zM293 396h1v1h-1zM296 396h2v1h-2zM301 396h3v1h-3zM361 396h2v1h-2zM286 397h2v1h-2zM290 397h1v1h-1zM292 397h1v1h-1zM295 397h2v1h-2zM300 397h1v1h-1zM302 397h3v1h-3zM361 397h1v1h-1zM287 398h4v1h-4zM294 398h2v1h-2zM299 398h1v1h-1zM301 398h1v1h-1zM304 398h2v1h-2zM293 399h2v1h-2zM298 399h1v1h-1zM300 399h1v1h-1zM303 399h2v1h-2zM307 399h1v1h-1zM292 400h2v1h-2zM297 400h1v1h-1zM299 400h1v1h-1zM302 400h2v1h-2zM307 400h3v1h-3zM292 401h2v1h-2zM296 401h1v1h-1zM298 401h1v1h-1zM301 401h2v1h-2zM306 401h1v1h-1zM308 401h3v1h-3zM293 402h4v1h-4zM300 402h2v1h-2zM305 402h1v1h-1zM307 402h1v1h-1zM310 402h1v1h-1zM299 403h2v1h-2zM304 403h1v1h-1zM306 403h1v1h-1zM310 403h2v1h-2zM298 404h2v1h-2zM303 404h1v1h-1zM305 404h1v1h-1zM309 404h2v1h-2zM313 404h1v1h-1zM298 405h2v1h-2zM302 405h1v1h-1zM304 405h1v1h-1zM308 405h2v1h-2zM313 405h3v1h-3zM299 406h4v1h-4zM307 406h2v1h-2zM312 406h5v1h-5zM306 407h2v1h-2zM311 407h2v1h-2zM314 407h1v1h-1zM316 407h2v1h-2zM305 408h2v1h-2zM310 408h2v1h-2zM313 408h1v1h-1zM315 408h2v1h-2zM319 408h1v1h-1zM304 409h2v1h-2zM309 409h2v1h-2zM312 409h1v1h-1zM314 409h2v1h-2zM319 409h3v1h-3zM304 410h2v1h-2zM308 410h2v1h-2zM311 410h1v1h-1zM313 410h2v1h-2zM318 410h5v1h-5zM305 411h4v1h-4zM312 411h2v1h-2zM317 411h2v1h-2zM320 411h1v1h-1zM322 411h2v1h-2zM311 412h2v1h-2zM316 412h2v1h-2zM319 412h1v1h-1zM321 412h2v1h-2zM325 412h1v1h-1zM310 413h2v1h-2zM315 413h2v1h-2zM318 413h1v1h-1zM320 413h2v1h-2zM325 413h3v1h-3zM310 414h2v1h-2zM314 414h2v1h-2zM317 414h1v1h-1zM319 414h2v1h-2zM324 414h5v1h-5zM311 415h4v1h-4zM318 415h2v1h-2zM323 415h2v1h-2zM326 415h1v1h-1zM328 415h1v1h-1zM317 416h2v1h-2zM322 416h2v1h-2zM325 416h1v1h-1zM328 416h2v1h-2zM316 417h2v1h-2zM321 417h2v1h-2zM324 417h1v1h-1zM327 417h2v1h-2zM331 417h1v1h-1zM316 418h2v1h-2zM320 418h2v1h-2zM323 418h1v1h-1zM326 418h2v1h-2zM331 418h3v1h-3zM317 419h4v1h-4zM325 419h2v1h-2zM330 419h1v1h-1zM332 419h3v1h-3zM324 420h2v1h-2zM329 420h1v1h-1zM331 420h1v1h-1zM334 420h2v1h-2zM323 421h2v1h-2zM328 421h1v1h-1zM330 421h1v1h-1zM333 421h2v1h-2zM322 422h2v1h-2zM327 422h1v1h-1zM329 422h1v1h-1zM332 422h2v1h-2zM337 422h1v1h-1zM322 423h2v1h-2zM326 423h1v1h-1zM328 423h1v1h-1zM331 423h2v1h-2zM336 423h1v1h-1zM338 423h1v1h-1zM323 424h4v1h-4zM330 424h2v1h-2zM335 424h1v1h-1zM337 424h1v1h-1zM329 425h2v1h-2zM334 425h1v1h-1zM336 425h1v1h-1zM328 426h2v1h-2zM333 426h1v1h-1zM335 426h1v1h-1zM328 427h2v1h-2zM332 427h1v1h-1zM334 427h1v1h-1zM329 428h4v1h-4z"/>
<polygon points="169.5,345.0 174.5,342.0 174.5,346.5" fill="#000" stroke="none" stroke-width="1" />
<polygon points="174.5,348.0 178.0,346.0 177.5,352.5" fill="#000" stroke="none" stroke-width="1" />
<polygon points="245.5,254.0 257.2,241.6 297.0,272.2 285.8,284.2" fill="#fff" stroke="#000" stroke-width="1" />
<polyline points="245.5,254.0 245.5,260.3 285.8,291.3 285.8,284.2" fill="none" stroke="#000" stroke-width="1" />
<polyline points="285.8,291.3 297.0,279.3 297.0,272.2" fill="none" stroke="#000" stroke-width="1" />
<path fill="#fff" d=""/>
<path fill="#000" d="M256 246h1v1h-1zM255 247h1v1h-1zM257 247h2v1h-2zM254 248h1v1h-1zM259 248h2v1h-2zM253 249h1v1h-1zM259 249h1v1h-1zM253 250h1v1h-1zM258 250h1v1h-1zM261 250h1v1h-1zM252 251h1v1h-1zM257 251h1v1h-1zM260 251h1v1h-1zM262 251h2v1h-2zM250 252h2v1h-2zM257 252h1v1h-1zM259 252h1v1h-1zM264 252h1v1h-1zM249 253h4v1h-4zM256 253h1v1h-1zM258 253h1v1h-1zM263 253h1v1h-1zM266 253h1v1h-1zM251 254h3v1h-3zM255 254h1v1h-1zM258 254h1v1h-1zM262 254h1v1h-1zM265 254h1v1h-1zM267 254h2v1h-2zM251 255h2v1h-2zM254 255h4v1h-4zM261 255h1v1h-1zM264 255h1v1h-1zM269 255h1v1h-1zM254 256h4v1h-4zM261 256h1v1h-1zM263 256h1v1h-1zM268 256h1v1h-1zM255 257h4v1h-4zM260 257h1v1h-1zM263 257h1v1h-1zM267 257h1v1h-1zM271 257h1v1h-1zM256 258h2v1h-2zM259 258h1v1h-1zM262 258h1v1h-1zM266 258h1v1h-1zM270 258h1v1h-1zM272 258h2v1h-2zM258 259h1v1h-1zM261 259h1v1h-1zM266 259h1v1h-1zM269 259h1v1h-1zM274 259h1v1h-1zM260 260h2v1h-2zM265 260h1v1h-1zM268 260h1v1h-1zM273 260h1v1h-1zM261 261h2v1h-2zM264 261h1v1h-1zM268 261h1v1h-1zM272 261h1v1h-1zM276 261h1v1h-1zM262 262h2v1h-2zM267 262h1v1h-1zM271 262h1v1h-1zM275 262h1v1h-1zM277 262h1v1h-1zM265 263h2v1h-2zM271 263h1v1h-1zM274 263h1v1h-1zM278 263h1v1h-1zM265 264h2v1h-2zM270 264h1v1h-1zM273 264h1v1h-1zM277 264h1v1h-1zM280 264h1v1h-1zM266 265h1v1h-1zM269 265h1v1h-1zM273 265h1v1h-1zM276 265h1v1h-1zM279 265h1v1h-1zM281 265h2v1h-2zM268 266h3v1h-3zM272 266h1v1h-1zM275 266h1v1h-1zM278 266h1v1h-1zM283 266h1v1h-1zM268 267h4v1h-4zM275 267h1v1h-1zM277 267h1v1h-1zM282 267h1v1h-1zM270 268h3v1h-3zM274 268h1v1h-1zM277 268h1v1h-1zM281 268h1v1h-1zM285 268h1v1h-1zM270 269h2v1h-2zM273 269h1v1h-1zM276 269h1v1h-1zM280 269h1v1h-1zM284 269h1v1h-1zM286 269h2v1h-2zM272 270h1v1h-1zM274 270h2v1h-2zM280 270h1v1h-1zM283 270h1v1h-1zM288 270h1v1h-1zM273 271h4v1h-4zM279 271h1v1h-1zM282 271h1v1h-1zM287 271h1v1h-1zM275 272h4v1h-4zM282 272h1v1h-1zM286 272h1v1h-1zM290 272h1v1h-1zM275 273h3v1h-3zM279 273h3v1h-3zM285 273h1v1h-1zM289 273h1v1h-1zM291 273h2v1h-2zM278 274h4v1h-4zM285 274h1v1h-1zM288 274h1v1h-1zM293 274h1v1h-1zM279 275h4v1h-4zM284 275h1v1h-1zM287 275h1v1h-1zM292 275h1v1h-1zM280 276h2v1h-2zM283 276h1v1h-1zM287 276h1v1h-1zM291 276h1v1h-1zM282 277h1v1h-1zM286 277h1v1h-1zM290 277h1v1h-1zM284 278h2v1h-2zM290 278h1v1h-1zM284 279h2v1h-2zM289 279h1v1h-1zM285 280h1v1h-1zM288 280h1v1h-1zM287 281h1v1h-1z"/>
<path d="M97.4,159.6C97.4,150.4 100.4,138.1 105.0,129.8C109.6,121.5 117.6,115.1 124.9,109.9C132.2,104.8 140.4,101.7 148.7,98.9C157.0,96.1 163.5,94.5 174.6,92.9C185.7,91.3 205.8,89.9 215.0,89.5C224.2,89.1 224.1,89.5 229.9,90.3C235.7,91.1 243.2,92.9 249.8,94.3C256.4,95.7 262.7,96.5 269.7,98.9C276.7,101.3 285.0,104.9 291.6,108.9C298.2,112.9 305.0,118.0 309.5,122.8C314.0,127.6 316.2,131.6 318.5,137.7C320.8,143.8 323.5,151.9 323.0,159.6C322.5,167.3 319.4,176.7 315.5,183.9C311.6,191.1 305.7,197.9 299.6,202.8C293.5,207.7 287.0,210.3 278.7,213.3C270.4,216.3 260.4,218.5 249.8,220.7C239.2,222.9 226.7,225.6 215.0,226.3C203.3,227.0 190.0,226.0 179.6,224.7C169.2,223.4 161.8,222.0 152.7,218.7C143.6,215.4 132.8,210.4 124.9,204.8C117.0,199.2 109.6,192.4 105.0,184.9C100.4,177.4 97.4,168.8 97.4,159.6Z" fill="#fff" stroke="#000"/>
<path d="M352.6,242.7C352.4,238.7 352.8,234.8 354.0,230.7C355.2,226.5 357.4,222.0 359.9,217.8C362.4,213.7 364.8,209.5 368.9,205.8C373.0,202.2 378.8,198.8 384.8,195.9C390.8,193.0 398.1,190.4 404.7,188.5C411.3,186.6 418.0,185.6 424.6,184.6C431.2,183.6 437.8,183.0 444.5,182.6C451.2,182.2 458.2,181.6 464.9,182.0C471.6,182.4 478.2,183.7 484.8,185.3C491.4,187.0 498.1,189.5 504.7,191.9C511.3,194.3 519.0,196.4 524.6,199.9C530.2,203.4 535.0,208.7 538.5,213.2C542.0,217.7 543.9,222.1 545.5,226.7C547.1,231.3 547.7,236.0 547.9,240.7C548.1,245.3 547.7,250.2 546.5,254.6C545.3,259.0 543.5,262.8 540.5,266.9C537.5,270.9 533.6,275.2 528.6,278.9C523.6,282.5 517.3,285.8 510.7,288.8C504.1,291.8 496.4,294.8 488.8,296.8C481.2,298.8 472.3,300.0 464.9,300.8C457.5,301.6 451.2,302.0 444.5,301.8C437.8,301.6 431.2,300.8 424.6,299.8C418.0,298.8 411.3,297.8 404.7,295.8C398.1,293.8 390.4,290.6 384.8,287.8C379.2,285.0 375.0,282.2 370.9,278.9C366.8,275.6 362.5,271.9 359.9,267.9C357.2,263.8 356.2,258.8 355.0,254.6C353.8,250.4 352.8,246.7 352.6,242.7Z" fill="#fff" stroke="#000"/>
<rect x="129.5" y="145.5" width="161" height="41" fill="#fff" stroke="#000" stroke-width="1"/>
<rect x="134" y="151" width="12" height="12" fill="#000" stroke="none" stroke-width="1"/>
<rect x="134" y="170" width="12" height="12" fill="#000" stroke="none" stroke-width="1"/>
<rect x="154" y="151" width="12" height="12" fill="#000" stroke="none" stroke-width="1"/>
<rect x="154" y="170" width="12" height="12" fill="#000" stroke="none" stroke-width="1"/>
<rect x="174" y="151" width="12" height="12" fill="#000" stroke="none" stroke-width="1"/>
<rect x="174" y="170" width="12" height="12" fill="#000" stroke="none" stroke-width="1"/>
<rect x="194" y="151" width="12" height="12" fill="#000" stroke="none" stroke-width="1"/>
<rect x="194" y="170" width="12" height="12" fill="#000" stroke="none" stroke-width="1"/>
<rect x="214" y="151" width="12" height="12" fill="#000" stroke="none" stroke-width="1"/>
<rect x="214" y="170" width="12" height="12" fill="#000" stroke="none" stroke-width="1"/>
<rect x="234" y="151" width="12" height="12" fill="#000" stroke="none" stroke-width="1"/>
<rect x="234" y="170" width="12" height="12" fill="#000" stroke="none" stroke-width="1"/>
<rect x="254" y="151" width="12" height="12" fill="#000" stroke="none" stroke-width="1"/>
<rect x="254" y="170" width="12" height="12" fill="#000" stroke="none" stroke-width="1"/>
<rect x="274.5" y="151.5" width="11" height="11" fill="#fff" stroke="#000" stroke-width="1"/>
<rect x="274" y="170" width="12" height="12" fill="#000" stroke="none" stroke-width="1"/>
<text transform="translate(169.5,113.5) scale(0.745,1)" font-size="14.5" textLength="109.4" lengthAdjust="spacing">Detail of JP1</text>
<text x="140.2" y="137.5" font-size="12" letter-spacing="0" text-anchor="middle" >15</text>
<text x="159.9" y="138.5" font-size="12" letter-spacing="0" text-anchor="middle" >13</text>
<text x="179.8" y="138.5" font-size="12" letter-spacing="0" text-anchor="middle" >11</text>
<text x="198.5" y="137.5" font-size="12" letter-spacing="0" text-anchor="middle" >9</text>
<text x="219.2" y="137.5" font-size="12" letter-spacing="0" text-anchor="middle" >7</text>
<text x="239.8" y="137.5" font-size="12" letter-spacing="0" text-anchor="middle" >5</text>
<text x="259.6" y="137.5" font-size="12" letter-spacing="0" text-anchor="middle" >3</text>
<text x="280.6" y="137.5" font-size="12" letter-spacing="0" text-anchor="middle" >1</text>
<text x="140.2" y="201" font-size="12" letter-spacing="0" text-anchor="middle" >16</text>
<text x="159.9" y="201" font-size="12" letter-spacing="0" text-anchor="middle" >14</text>
<text x="179.8" y="201" font-size="12" letter-spacing="0" text-anchor="middle" >12</text>
<text x="198.5" y="202" font-size="12" letter-spacing="0" text-anchor="middle" >10</text>
<text x="219.2" y="202" font-size="12" letter-spacing="0" text-anchor="middle" >8</text>
<text x="239.8" y="201" font-size="12" letter-spacing="0" text-anchor="middle" >6</text>
<text x="259.6" y="201" font-size="12" letter-spacing="0" text-anchor="middle" >4</text>
<text x="280.6" y="201" font-size="12" letter-spacing="0" text-anchor="middle" >2</text>
<rect x="388.5" y="237.5" width="126" height="39" fill="#fff" stroke="#000" stroke-width="1"/>
<rect x="401.5" y="246.5" width="11" height="21" fill="#fff" stroke="#000" stroke-width="1"/>
<rect x="414" y="246" width="11" height="22" fill="#000" stroke="none" stroke-width="1"/>
<rect x="428" y="246" width="11" height="22" fill="#000" stroke="none" stroke-width="1"/>
<rect x="443" y="246" width="11" height="22" fill="#000" stroke="none" stroke-width="1"/>
<rect x="456" y="246" width="11" height="22" fill="#000" stroke="none" stroke-width="1"/>
<rect x="469" y="246" width="11" height="22" fill="#000" stroke="none" stroke-width="1"/>
<rect x="484" y="246" width="11" height="22" fill="#000" stroke="none" stroke-width="1"/>
<rect x="498" y="246" width="11" height="22" fill="#000" stroke="none" stroke-width="1"/>
<circle cx="394.5" cy="271" r="4.5" fill="#fff" stroke="#000"/>
<text transform="translate(396.5,211.5) scale(0.745,1)" font-size="14.5" textLength="149.7" lengthAdjust="spacing">Detail of SW1/1-8</text>
<text x="391.5" y="232.5" font-size="11" letter-spacing="0" text-anchor="start" >1</text>
<text x="509.5" y="232.5" font-size="11" letter-spacing="0" text-anchor="start" >8</text>
<polygon points="145.0,323.0 157.3,310.5 158.5,311.0 150.0,327.0 147.0,327.0" fill="#000" stroke="none" stroke-width="1" />
<path d="M3.3,322H149V338L147,341H3.3Q1.3,341 1.3,339V324Q1.3,322 3.3,322Z" fill="#000"/>
<path d="M4.3,323.5H146.5V337.5L145.5,338.5H4.3Q3.3,338.5 3.3,337.5V324.5Q3.3,323.5 4.3,323.5Z" fill="#fff"/>
<line x1="148.5" y1="324" x2="153.5" y2="316.5" stroke="#fff" stroke-width="1"/>
<text transform="translate(8.5,335.5) scale(0.745,1)" font-size="14.5" textLength="182.6" lengthAdjust="spacing">POWER CONNECTOR</text>
<polygon points="188.5,368.0 198.0,360.0 199.3,360.6 193.0,372.0 190.0,372.0" fill="#000" stroke="none" stroke-width="1" />
<path d="M160.5,367.4H192.3V382.6L190.3,385.6H160.5Q158.5,385.6 158.5,383.6V369.4Q158.5,367.4 160.5,367.4Z" fill="#000"/>
<path d="M161.5,369.4H189.8V382.6L188.8,383.6H161.5Q160.5,383.6 160.5,382.6V370.4Q160.5,369.4 161.5,369.4Z" fill="#fff"/>
<line x1="191.5" y1="369" x2="195" y2="364.5" stroke="#fff" stroke-width="1"/>
<text transform="translate(161.2,380.5) scale(0.745,1)" font-size="14.5" textLength="29.0" lengthAdjust="spacing">JP1</text>
<polygon points="259.5,404.0 271.5,391.2 272.8,391.8 265.5,408.0 262.0,408.0" fill="#000" stroke="none" stroke-width="1" />
<path d="M178.9,403.2H264.8V416.7L262.8,419.7H178.9Q176.9,419.7 176.9,417.7V405.2Q176.9,403.2 178.9,403.2Z" fill="#000"/>
<path d="M179.9,404.7H262.3V416.2L261.3,417.2H179.9Q178.9,417.2 178.9,416.2V405.7Q178.9,404.7 179.9,404.7Z" fill="#fff"/>
<line x1="263.5" y1="405" x2="268" y2="397.5" stroke="#fff" stroke-width="1"/>
<text transform="translate(185.5,416.5) scale(0.745,1)" font-size="14.5" textLength="95.7" lengthAdjust="spacing">INTERFACE</text>
<polygon points="288.5,244.5 279.0,254.0 280.0,255.2 292.5,247.0" fill="#000" stroke="none" stroke-width="1" />
<path d="M289.2,229.2H318.6V244.3L316.6,247.3H289.2Q287.2,247.3 287.2,245.3V231.2Q287.2,229.2 289.2,229.2Z" fill="#000"/>
<path d="M289.7,230.7H316.6V243.8L315.6,244.8H289.7Q288.7,244.8 288.7,243.8V231.7Q288.7,230.7 289.7,230.7Z" fill="#fff"/>
<text transform="translate(288.1,243) scale(0.745,1)" font-size="14.5" textLength="37.0" lengthAdjust="spacing">SW1</text>
<text x="544" y="486.5" font-size="12" letter-spacing="0.9" text-anchor="start" >70066</text>
</svg>
</body></html>
